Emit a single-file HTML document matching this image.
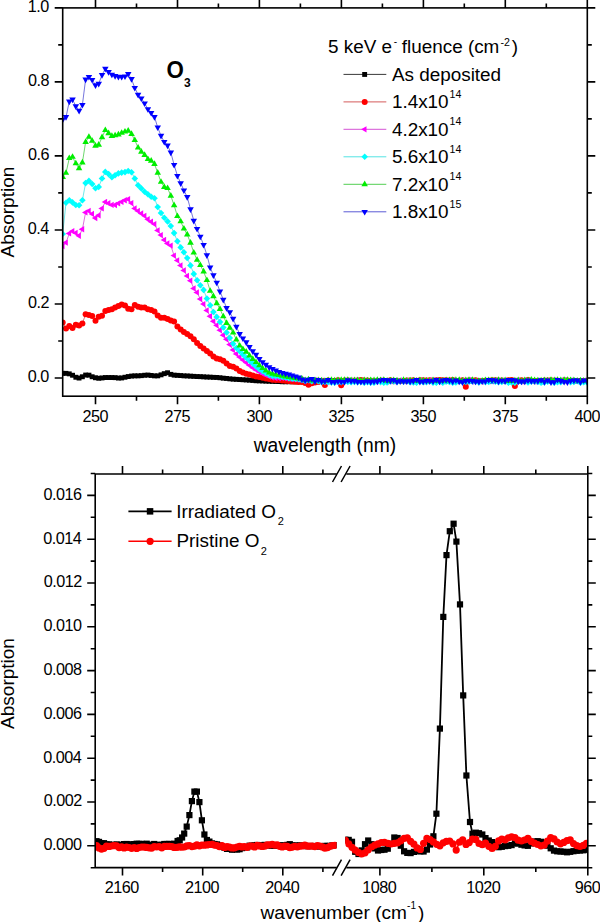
<!DOCTYPE html>
<html><head><meta charset="utf-8"><title>Absorption spectra</title>
<style>html,body{margin:0;padding:0;background:#fff;}body{width:600px;height:922px;position:relative;overflow:hidden;font-family:"Liberation Sans",sans-serif;}</style>
</head><body>
<svg width="600" height="922" viewBox="0 0 600 922" style="position:absolute;left:0;top:0">
<rect width="600" height="922" fill="#fff"/>
<defs><clipPath id="ct"><rect x="62.7" y="7.9" width="524.6" height="388.3"/></clipPath><clipPath id="cb"><rect x="95.2" y="474.0" width="241.5" height="393.6"/><rect x="345.3" y="474.0" width="242.5" height="393.6"/></clipPath></defs>
<g clip-path="url(#ct)">
<polyline points="62.7,373.3 66.0,373.3 69.3,373.8 72.5,375.3 75.8,377.3 79.1,378.0 82.4,376.8 85.6,375.0 88.9,375.1 92.2,376.7 95.5,377.8 98.7,378.3 102.0,377.9 105.3,377.5 108.6,377.5 111.9,377.5 115.1,377.7 118.4,378.1 121.7,378.0 125.0,377.2 128.2,376.5 131.5,376.1 134.8,375.8 138.1,375.8 141.3,375.7 144.6,375.3 147.9,375.1 151.2,375.5 154.5,375.8 157.7,375.8 161.0,374.9 164.3,373.6 167.6,372.7 170.8,374.4 174.1,375.1 177.4,375.4 180.7,375.6 183.9,375.8 187.2,376.0 190.5,376.2 193.8,376.3 197.1,376.5 200.3,376.7 203.6,376.9 206.9,377.0 210.2,377.2 213.4,377.3 216.7,377.5 220.0,377.8 223.3,378.1 226.6,378.5 229.8,378.8 233.1,379.1 236.4,379.4 239.7,379.6 242.9,379.8 246.2,379.9 249.5,380.2 252.8,380.5 256.0,380.7 259.3,380.9 262.6,381.0 265.9,381.1 269.2,381.2 272.4,381.4 275.7,381.5 279.0,381.6 282.3,381.7 285.5,381.7 288.8,381.7 292.1,381.7 295.4,381.7 298.6,381.7 301.9,381.5 305.2,381.2 308.5,381.7 311.8,380.9 315.0,381.3 318.3,381.0 321.6,380.6 324.9,381.0 328.1,380.4 331.4,380.9 334.7,380.5 338.0,380.5 341.2,380.9 344.5,381.4 347.8,380.5 351.1,380.7 354.4,381.2 357.6,381.5 360.9,381.1 364.2,380.9 367.5,381.6 370.7,380.5 374.0,381.4 377.3,380.7 380.6,380.6 383.8,380.5 387.1,380.8 390.4,381.4 393.7,380.6 397.0,381.1 400.2,381.2 403.5,380.8 406.8,381.1 410.1,380.5 413.3,380.5 416.6,380.6 419.9,381.2 423.2,380.9 426.4,380.8 429.7,381.1 433.0,380.9 436.3,380.8 439.6,381.4 442.8,381.2 446.1,380.7 449.4,381.1 452.7,381.0 455.9,381.5 459.2,381.3 462.5,380.7 465.8,381.6 469.0,380.5 472.3,380.9 475.6,381.3 478.9,380.6 482.2,381.0 485.4,380.4 488.7,381.2 492.0,381.3 495.3,381.1 498.5,381.5 501.8,380.8 505.1,381.2 508.4,381.1 511.6,381.1 514.9,380.9 518.2,381.4 521.5,381.5 524.8,381.0 528.0,381.2 531.3,380.5 534.6,381.2 537.9,381.2 541.1,381.6 544.4,381.4 547.7,380.7 551.0,380.9 554.2,381.2 557.5,380.4 560.8,381.0 564.1,380.6 567.4,380.5 570.6,380.5 573.9,381.3 577.2,380.6 580.5,380.7 583.7,380.9 587.0,381.4" fill="none" stroke="#222" stroke-width="0.75" />
<rect x="60.2" y="370.9" width="4.9" height="4.9" fill="#000"/>
<rect x="63.5" y="370.9" width="4.9" height="4.9" fill="#000"/>
<rect x="66.8" y="371.4" width="4.9" height="4.9" fill="#000"/>
<rect x="70.1" y="372.8" width="4.9" height="4.9" fill="#000"/>
<rect x="73.4" y="374.8" width="4.9" height="4.9" fill="#000"/>
<rect x="76.6" y="375.6" width="4.9" height="4.9" fill="#000"/>
<rect x="79.9" y="374.3" width="4.9" height="4.9" fill="#000"/>
<rect x="83.2" y="372.6" width="4.9" height="4.9" fill="#000"/>
<rect x="86.5" y="372.7" width="4.9" height="4.9" fill="#000"/>
<rect x="89.7" y="374.3" width="4.9" height="4.9" fill="#000"/>
<rect x="93.0" y="375.3" width="4.9" height="4.9" fill="#000"/>
<rect x="96.3" y="375.8" width="4.9" height="4.9" fill="#000"/>
<rect x="99.6" y="375.5" width="4.9" height="4.9" fill="#000"/>
<rect x="102.9" y="375.1" width="4.9" height="4.9" fill="#000"/>
<rect x="106.1" y="375.1" width="4.9" height="4.9" fill="#000"/>
<rect x="109.4" y="375.1" width="4.9" height="4.9" fill="#000"/>
<rect x="112.7" y="375.2" width="4.9" height="4.9" fill="#000"/>
<rect x="116.0" y="375.6" width="4.9" height="4.9" fill="#000"/>
<rect x="119.2" y="375.5" width="4.9" height="4.9" fill="#000"/>
<rect x="122.5" y="374.8" width="4.9" height="4.9" fill="#000"/>
<rect x="125.8" y="374.1" width="4.9" height="4.9" fill="#000"/>
<rect x="129.1" y="373.6" width="4.9" height="4.9" fill="#000"/>
<rect x="132.3" y="373.4" width="4.9" height="4.9" fill="#000"/>
<rect x="135.6" y="373.4" width="4.9" height="4.9" fill="#000"/>
<rect x="138.9" y="373.2" width="4.9" height="4.9" fill="#000"/>
<rect x="142.2" y="372.8" width="4.9" height="4.9" fill="#000"/>
<rect x="145.5" y="372.6" width="4.9" height="4.9" fill="#000"/>
<rect x="148.7" y="373.0" width="4.9" height="4.9" fill="#000"/>
<rect x="152.0" y="373.4" width="4.9" height="4.9" fill="#000"/>
<rect x="155.3" y="373.4" width="4.9" height="4.9" fill="#000"/>
<rect x="158.6" y="372.4" width="4.9" height="4.9" fill="#000"/>
<rect x="161.8" y="371.2" width="4.9" height="4.9" fill="#000"/>
<rect x="165.1" y="370.3" width="4.9" height="4.9" fill="#000"/>
<rect x="168.4" y="371.9" width="4.9" height="4.9" fill="#000"/>
<rect x="171.7" y="372.7" width="4.9" height="4.9" fill="#000"/>
<rect x="174.9" y="372.9" width="4.9" height="4.9" fill="#000"/>
<rect x="178.2" y="373.1" width="4.9" height="4.9" fill="#000"/>
<rect x="181.5" y="373.4" width="4.9" height="4.9" fill="#000"/>
<rect x="184.8" y="373.5" width="4.9" height="4.9" fill="#000"/>
<rect x="188.1" y="373.7" width="4.9" height="4.9" fill="#000"/>
<rect x="191.3" y="373.9" width="4.9" height="4.9" fill="#000"/>
<rect x="194.6" y="374.1" width="4.9" height="4.9" fill="#000"/>
<rect x="197.9" y="374.2" width="4.9" height="4.9" fill="#000"/>
<rect x="201.2" y="374.4" width="4.9" height="4.9" fill="#000"/>
<rect x="204.4" y="374.6" width="4.9" height="4.9" fill="#000"/>
<rect x="207.7" y="374.7" width="4.9" height="4.9" fill="#000"/>
<rect x="211.0" y="374.9" width="4.9" height="4.9" fill="#000"/>
<rect x="214.3" y="375.0" width="4.9" height="4.9" fill="#000"/>
<rect x="217.5" y="375.3" width="4.9" height="4.9" fill="#000"/>
<rect x="220.8" y="375.7" width="4.9" height="4.9" fill="#000"/>
<rect x="224.1" y="376.0" width="4.9" height="4.9" fill="#000"/>
<rect x="227.4" y="376.4" width="4.9" height="4.9" fill="#000"/>
<rect x="230.7" y="376.7" width="4.9" height="4.9" fill="#000"/>
<rect x="233.9" y="376.9" width="4.9" height="4.9" fill="#000"/>
<rect x="237.2" y="377.1" width="4.9" height="4.9" fill="#000"/>
<rect x="240.5" y="377.3" width="4.9" height="4.9" fill="#000"/>
<rect x="243.8" y="377.5" width="4.9" height="4.9" fill="#000"/>
<rect x="247.0" y="377.7" width="4.9" height="4.9" fill="#000"/>
<rect x="250.3" y="378.0" width="4.9" height="4.9" fill="#000"/>
<rect x="253.6" y="378.3" width="4.9" height="4.9" fill="#000"/>
<rect x="256.9" y="378.4" width="4.9" height="4.9" fill="#000"/>
<rect x="260.1" y="378.5" width="4.9" height="4.9" fill="#000"/>
<rect x="263.4" y="378.7" width="4.9" height="4.9" fill="#000"/>
<rect x="266.7" y="378.8" width="4.9" height="4.9" fill="#000"/>
<rect x="270.0" y="378.9" width="4.9" height="4.9" fill="#000"/>
<rect x="273.3" y="379.0" width="4.9" height="4.9" fill="#000"/>
<rect x="276.5" y="379.1" width="4.9" height="4.9" fill="#000"/>
<rect x="279.8" y="379.3" width="4.9" height="4.9" fill="#000"/>
<rect x="283.1" y="379.3" width="4.9" height="4.9" fill="#000"/>
<rect x="286.4" y="379.3" width="4.9" height="4.9" fill="#000"/>
<rect x="289.6" y="379.3" width="4.9" height="4.9" fill="#000"/>
<rect x="292.9" y="379.3" width="4.9" height="4.9" fill="#000"/>
<rect x="296.2" y="379.3" width="4.9" height="4.9" fill="#000"/>
<rect x="299.5" y="379.0" width="4.9" height="4.9" fill="#000"/>
<rect x="302.7" y="378.7" width="4.9" height="4.9" fill="#000"/>
<rect x="306.0" y="379.2" width="4.9" height="4.9" fill="#000"/>
<rect x="309.3" y="378.4" width="4.9" height="4.9" fill="#000"/>
<rect x="312.6" y="378.9" width="4.9" height="4.9" fill="#000"/>
<rect x="315.9" y="378.6" width="4.9" height="4.9" fill="#000"/>
<rect x="319.1" y="378.1" width="4.9" height="4.9" fill="#000"/>
<rect x="322.4" y="378.6" width="4.9" height="4.9" fill="#000"/>
<rect x="325.7" y="378.0" width="4.9" height="4.9" fill="#000"/>
<rect x="329.0" y="378.5" width="4.9" height="4.9" fill="#000"/>
<rect x="332.2" y="378.0" width="4.9" height="4.9" fill="#000"/>
<rect x="335.5" y="378.1" width="4.9" height="4.9" fill="#000"/>
<rect x="338.8" y="378.5" width="4.9" height="4.9" fill="#000"/>
<rect x="342.1" y="378.9" width="4.9" height="4.9" fill="#000"/>
<rect x="345.3" y="378.1" width="4.9" height="4.9" fill="#000"/>
<rect x="348.6" y="378.2" width="4.9" height="4.9" fill="#000"/>
<rect x="351.9" y="378.7" width="4.9" height="4.9" fill="#000"/>
<rect x="355.2" y="379.1" width="4.9" height="4.9" fill="#000"/>
<rect x="358.5" y="378.6" width="4.9" height="4.9" fill="#000"/>
<rect x="361.7" y="378.4" width="4.9" height="4.9" fill="#000"/>
<rect x="365.0" y="379.1" width="4.9" height="4.9" fill="#000"/>
<rect x="368.3" y="378.0" width="4.9" height="4.9" fill="#000"/>
<rect x="371.6" y="379.0" width="4.9" height="4.9" fill="#000"/>
<rect x="374.8" y="378.3" width="4.9" height="4.9" fill="#000"/>
<rect x="378.1" y="378.1" width="4.9" height="4.9" fill="#000"/>
<rect x="381.4" y="378.1" width="4.9" height="4.9" fill="#000"/>
<rect x="384.7" y="378.3" width="4.9" height="4.9" fill="#000"/>
<rect x="387.9" y="378.9" width="4.9" height="4.9" fill="#000"/>
<rect x="391.2" y="378.2" width="4.9" height="4.9" fill="#000"/>
<rect x="394.5" y="378.6" width="4.9" height="4.9" fill="#000"/>
<rect x="397.8" y="378.7" width="4.9" height="4.9" fill="#000"/>
<rect x="401.1" y="378.4" width="4.9" height="4.9" fill="#000"/>
<rect x="404.3" y="378.6" width="4.9" height="4.9" fill="#000"/>
<rect x="407.6" y="378.0" width="4.9" height="4.9" fill="#000"/>
<rect x="410.9" y="378.0" width="4.9" height="4.9" fill="#000"/>
<rect x="414.2" y="378.2" width="4.9" height="4.9" fill="#000"/>
<rect x="417.4" y="378.8" width="4.9" height="4.9" fill="#000"/>
<rect x="420.7" y="378.5" width="4.9" height="4.9" fill="#000"/>
<rect x="424.0" y="378.3" width="4.9" height="4.9" fill="#000"/>
<rect x="427.3" y="378.7" width="4.9" height="4.9" fill="#000"/>
<rect x="430.6" y="378.5" width="4.9" height="4.9" fill="#000"/>
<rect x="433.8" y="378.3" width="4.9" height="4.9" fill="#000"/>
<rect x="437.1" y="378.9" width="4.9" height="4.9" fill="#000"/>
<rect x="440.4" y="378.8" width="4.9" height="4.9" fill="#000"/>
<rect x="443.7" y="378.2" width="4.9" height="4.9" fill="#000"/>
<rect x="446.9" y="378.6" width="4.9" height="4.9" fill="#000"/>
<rect x="450.2" y="378.6" width="4.9" height="4.9" fill="#000"/>
<rect x="453.5" y="379.0" width="4.9" height="4.9" fill="#000"/>
<rect x="456.8" y="378.8" width="4.9" height="4.9" fill="#000"/>
<rect x="460.0" y="378.3" width="4.9" height="4.9" fill="#000"/>
<rect x="463.3" y="379.1" width="4.9" height="4.9" fill="#000"/>
<rect x="466.6" y="378.1" width="4.9" height="4.9" fill="#000"/>
<rect x="469.9" y="378.5" width="4.9" height="4.9" fill="#000"/>
<rect x="473.2" y="378.9" width="4.9" height="4.9" fill="#000"/>
<rect x="476.4" y="378.1" width="4.9" height="4.9" fill="#000"/>
<rect x="479.7" y="378.5" width="4.9" height="4.9" fill="#000"/>
<rect x="483.0" y="378.0" width="4.9" height="4.9" fill="#000"/>
<rect x="486.3" y="378.8" width="4.9" height="4.9" fill="#000"/>
<rect x="489.5" y="378.9" width="4.9" height="4.9" fill="#000"/>
<rect x="492.8" y="378.6" width="4.9" height="4.9" fill="#000"/>
<rect x="496.1" y="379.0" width="4.9" height="4.9" fill="#000"/>
<rect x="499.4" y="378.3" width="4.9" height="4.9" fill="#000"/>
<rect x="502.6" y="378.8" width="4.9" height="4.9" fill="#000"/>
<rect x="505.9" y="378.7" width="4.9" height="4.9" fill="#000"/>
<rect x="509.2" y="378.6" width="4.9" height="4.9" fill="#000"/>
<rect x="512.5" y="378.5" width="4.9" height="4.9" fill="#000"/>
<rect x="515.8" y="379.0" width="4.9" height="4.9" fill="#000"/>
<rect x="519.0" y="379.1" width="4.9" height="4.9" fill="#000"/>
<rect x="522.3" y="378.5" width="4.9" height="4.9" fill="#000"/>
<rect x="525.6" y="378.7" width="4.9" height="4.9" fill="#000"/>
<rect x="528.9" y="378.0" width="4.9" height="4.9" fill="#000"/>
<rect x="532.1" y="378.8" width="4.9" height="4.9" fill="#000"/>
<rect x="535.4" y="378.7" width="4.9" height="4.9" fill="#000"/>
<rect x="538.7" y="379.1" width="4.9" height="4.9" fill="#000"/>
<rect x="542.0" y="378.9" width="4.9" height="4.9" fill="#000"/>
<rect x="545.2" y="378.3" width="4.9" height="4.9" fill="#000"/>
<rect x="548.5" y="378.4" width="4.9" height="4.9" fill="#000"/>
<rect x="551.8" y="378.8" width="4.9" height="4.9" fill="#000"/>
<rect x="555.1" y="378.0" width="4.9" height="4.9" fill="#000"/>
<rect x="558.4" y="378.5" width="4.9" height="4.9" fill="#000"/>
<rect x="561.6" y="378.2" width="4.9" height="4.9" fill="#000"/>
<rect x="564.9" y="378.1" width="4.9" height="4.9" fill="#000"/>
<rect x="568.2" y="378.0" width="4.9" height="4.9" fill="#000"/>
<rect x="571.5" y="378.9" width="4.9" height="4.9" fill="#000"/>
<rect x="574.7" y="378.1" width="4.9" height="4.9" fill="#000"/>
<rect x="578.0" y="378.2" width="4.9" height="4.9" fill="#000"/>
<rect x="581.3" y="378.4" width="4.9" height="4.9" fill="#000"/>
<rect x="584.6" y="379.0" width="4.9" height="4.9" fill="#000"/>
<polyline points="62.7,322.5 66.0,328.6 69.3,326.1 72.5,328.0 75.8,324.7 79.1,325.6 82.4,323.4 85.6,314.3 88.9,315.1 92.2,315.9 95.5,320.7 98.7,316.7 102.0,315.8 105.3,311.0 108.6,310.0 111.9,309.3 115.1,307.6 118.4,305.9 121.7,304.4 125.0,305.6 128.2,308.7 131.5,309.2 134.8,305.1 138.1,306.7 141.3,307.5 144.6,307.5 147.9,309.2 151.2,310.0 154.5,311.6 157.7,315.6 161.0,317.7 164.3,317.8 167.6,319.1 170.8,320.5 174.1,321.4 177.4,326.5 180.7,329.6 183.9,332.0 187.2,333.9 190.5,336.2 193.8,339.2 197.1,343.1 200.3,346.0 203.6,348.5 206.9,350.9 210.2,353.4 213.4,356.4 216.7,358.6 220.0,359.2 223.3,360.7 226.6,363.6 229.8,366.0 233.1,366.7 236.4,368.5 239.7,370.9 242.9,372.5 246.2,373.7 249.5,374.6 252.8,375.5 256.0,376.4 259.3,377.1 262.6,377.8 265.9,378.4 269.2,379.1 272.4,379.7 275.7,379.9 279.0,380.0 282.3,380.5 285.5,380.8 288.8,381.1 292.1,381.5 295.4,381.8 298.6,382.1 301.9,382.1 305.2,382.9 308.5,384.8 311.8,383.2 315.0,382.4 318.3,382.0 321.6,380.9 324.9,385.0 328.1,380.5 331.4,381.2 334.7,381.2 338.0,380.3 341.2,385.2 344.5,380.4 347.8,380.4 351.1,380.7 354.4,380.8 357.6,380.4 360.9,380.1 364.2,380.6 367.5,380.5 370.7,380.8 374.0,381.2 377.3,380.9 380.6,380.7 383.8,380.8 387.1,380.9 390.4,380.2 393.7,381.2 397.0,381.0 400.2,381.1 403.5,381.1 406.8,380.6 410.1,380.6 413.3,380.2 416.6,380.9 419.9,380.2 423.2,380.2 426.4,380.4 429.7,380.3 433.0,380.5 436.3,380.2 439.6,380.1 442.8,380.3 446.1,380.2 449.4,380.5 452.7,380.1 455.9,381.1 459.2,380.8 462.5,380.3 465.8,386.8 469.0,380.5 472.3,380.5 475.6,380.2 478.9,381.1 482.2,381.3 485.4,380.7 488.7,380.7 492.0,380.2 495.3,380.2 498.5,380.5 501.8,380.4 505.1,381.1 508.4,380.3 511.6,380.1 514.9,386.0 518.2,380.7 521.5,380.3 524.8,380.8 528.0,380.1 531.3,380.7 534.6,381.3 537.9,381.1 541.1,380.9 544.4,380.4 547.7,380.5 551.0,380.3 554.2,381.0 557.5,380.7 560.8,381.0 564.1,380.5 567.4,380.4 570.6,381.1 573.9,381.3 577.2,381.1 580.5,381.1 583.7,381.1 587.0,381.0" fill="none" stroke="#d04848" stroke-width="0.75" />
<circle cx="62.7" cy="322.5" r="3.0" fill="#f00"/>
<circle cx="66.0" cy="328.6" r="3.0" fill="#f00"/>
<circle cx="69.3" cy="326.1" r="3.0" fill="#f00"/>
<circle cx="72.5" cy="328.0" r="3.0" fill="#f00"/>
<circle cx="75.8" cy="324.7" r="3.0" fill="#f00"/>
<circle cx="79.1" cy="325.6" r="3.0" fill="#f00"/>
<circle cx="82.4" cy="323.4" r="3.0" fill="#f00"/>
<circle cx="85.6" cy="314.3" r="3.0" fill="#f00"/>
<circle cx="88.9" cy="315.1" r="3.0" fill="#f00"/>
<circle cx="92.2" cy="315.9" r="3.0" fill="#f00"/>
<circle cx="95.5" cy="320.7" r="3.0" fill="#f00"/>
<circle cx="98.7" cy="316.7" r="3.0" fill="#f00"/>
<circle cx="102.0" cy="315.8" r="3.0" fill="#f00"/>
<circle cx="105.3" cy="311.0" r="3.0" fill="#f00"/>
<circle cx="108.6" cy="310.0" r="3.0" fill="#f00"/>
<circle cx="111.9" cy="309.3" r="3.0" fill="#f00"/>
<circle cx="115.1" cy="307.6" r="3.0" fill="#f00"/>
<circle cx="118.4" cy="305.9" r="3.0" fill="#f00"/>
<circle cx="121.7" cy="304.4" r="3.0" fill="#f00"/>
<circle cx="125.0" cy="305.6" r="3.0" fill="#f00"/>
<circle cx="128.2" cy="308.7" r="3.0" fill="#f00"/>
<circle cx="131.5" cy="309.2" r="3.0" fill="#f00"/>
<circle cx="134.8" cy="305.1" r="3.0" fill="#f00"/>
<circle cx="138.1" cy="306.7" r="3.0" fill="#f00"/>
<circle cx="141.3" cy="307.5" r="3.0" fill="#f00"/>
<circle cx="144.6" cy="307.5" r="3.0" fill="#f00"/>
<circle cx="147.9" cy="309.2" r="3.0" fill="#f00"/>
<circle cx="151.2" cy="310.0" r="3.0" fill="#f00"/>
<circle cx="154.5" cy="311.6" r="3.0" fill="#f00"/>
<circle cx="157.7" cy="315.6" r="3.0" fill="#f00"/>
<circle cx="161.0" cy="317.7" r="3.0" fill="#f00"/>
<circle cx="164.3" cy="317.8" r="3.0" fill="#f00"/>
<circle cx="167.6" cy="319.1" r="3.0" fill="#f00"/>
<circle cx="170.8" cy="320.5" r="3.0" fill="#f00"/>
<circle cx="174.1" cy="321.4" r="3.0" fill="#f00"/>
<circle cx="177.4" cy="326.5" r="3.0" fill="#f00"/>
<circle cx="180.7" cy="329.6" r="3.0" fill="#f00"/>
<circle cx="183.9" cy="332.0" r="3.0" fill="#f00"/>
<circle cx="187.2" cy="333.9" r="3.0" fill="#f00"/>
<circle cx="190.5" cy="336.2" r="3.0" fill="#f00"/>
<circle cx="193.8" cy="339.2" r="3.0" fill="#f00"/>
<circle cx="197.1" cy="343.1" r="3.0" fill="#f00"/>
<circle cx="200.3" cy="346.0" r="3.0" fill="#f00"/>
<circle cx="203.6" cy="348.5" r="3.0" fill="#f00"/>
<circle cx="206.9" cy="350.9" r="3.0" fill="#f00"/>
<circle cx="210.2" cy="353.4" r="3.0" fill="#f00"/>
<circle cx="213.4" cy="356.4" r="3.0" fill="#f00"/>
<circle cx="216.7" cy="358.6" r="3.0" fill="#f00"/>
<circle cx="220.0" cy="359.2" r="3.0" fill="#f00"/>
<circle cx="223.3" cy="360.7" r="3.0" fill="#f00"/>
<circle cx="226.6" cy="363.6" r="3.0" fill="#f00"/>
<circle cx="229.8" cy="366.0" r="3.0" fill="#f00"/>
<circle cx="233.1" cy="366.7" r="3.0" fill="#f00"/>
<circle cx="236.4" cy="368.5" r="3.0" fill="#f00"/>
<circle cx="239.7" cy="370.9" r="3.0" fill="#f00"/>
<circle cx="242.9" cy="372.5" r="3.0" fill="#f00"/>
<circle cx="246.2" cy="373.7" r="3.0" fill="#f00"/>
<circle cx="249.5" cy="374.6" r="3.0" fill="#f00"/>
<circle cx="252.8" cy="375.5" r="3.0" fill="#f00"/>
<circle cx="256.0" cy="376.4" r="3.0" fill="#f00"/>
<circle cx="259.3" cy="377.1" r="3.0" fill="#f00"/>
<circle cx="262.6" cy="377.8" r="3.0" fill="#f00"/>
<circle cx="265.9" cy="378.4" r="3.0" fill="#f00"/>
<circle cx="269.2" cy="379.1" r="3.0" fill="#f00"/>
<circle cx="272.4" cy="379.7" r="3.0" fill="#f00"/>
<circle cx="275.7" cy="379.9" r="3.0" fill="#f00"/>
<circle cx="279.0" cy="380.0" r="3.0" fill="#f00"/>
<circle cx="282.3" cy="380.5" r="3.0" fill="#f00"/>
<circle cx="285.5" cy="380.8" r="3.0" fill="#f00"/>
<circle cx="288.8" cy="381.1" r="3.0" fill="#f00"/>
<circle cx="292.1" cy="381.5" r="3.0" fill="#f00"/>
<circle cx="295.4" cy="381.8" r="3.0" fill="#f00"/>
<circle cx="298.6" cy="382.1" r="3.0" fill="#f00"/>
<circle cx="301.9" cy="382.1" r="3.0" fill="#f00"/>
<circle cx="305.2" cy="382.9" r="3.0" fill="#f00"/>
<circle cx="308.5" cy="384.8" r="3.0" fill="#f00"/>
<circle cx="311.8" cy="383.2" r="3.0" fill="#f00"/>
<circle cx="315.0" cy="382.4" r="3.0" fill="#f00"/>
<circle cx="318.3" cy="382.0" r="3.0" fill="#f00"/>
<circle cx="321.6" cy="380.9" r="3.0" fill="#f00"/>
<circle cx="324.9" cy="385.0" r="3.0" fill="#f00"/>
<circle cx="328.1" cy="380.5" r="3.0" fill="#f00"/>
<circle cx="331.4" cy="381.2" r="3.0" fill="#f00"/>
<circle cx="334.7" cy="381.2" r="3.0" fill="#f00"/>
<circle cx="338.0" cy="380.3" r="3.0" fill="#f00"/>
<circle cx="341.2" cy="385.2" r="3.0" fill="#f00"/>
<circle cx="344.5" cy="380.4" r="3.0" fill="#f00"/>
<circle cx="347.8" cy="380.4" r="3.0" fill="#f00"/>
<circle cx="351.1" cy="380.7" r="3.0" fill="#f00"/>
<circle cx="354.4" cy="380.8" r="3.0" fill="#f00"/>
<circle cx="357.6" cy="380.4" r="3.0" fill="#f00"/>
<circle cx="360.9" cy="380.1" r="3.0" fill="#f00"/>
<circle cx="364.2" cy="380.6" r="3.0" fill="#f00"/>
<circle cx="367.5" cy="380.5" r="3.0" fill="#f00"/>
<circle cx="370.7" cy="380.8" r="3.0" fill="#f00"/>
<circle cx="374.0" cy="381.2" r="3.0" fill="#f00"/>
<circle cx="377.3" cy="380.9" r="3.0" fill="#f00"/>
<circle cx="380.6" cy="380.7" r="3.0" fill="#f00"/>
<circle cx="383.8" cy="380.8" r="3.0" fill="#f00"/>
<circle cx="387.1" cy="380.9" r="3.0" fill="#f00"/>
<circle cx="390.4" cy="380.2" r="3.0" fill="#f00"/>
<circle cx="393.7" cy="381.2" r="3.0" fill="#f00"/>
<circle cx="397.0" cy="381.0" r="3.0" fill="#f00"/>
<circle cx="400.2" cy="381.1" r="3.0" fill="#f00"/>
<circle cx="403.5" cy="381.1" r="3.0" fill="#f00"/>
<circle cx="406.8" cy="380.6" r="3.0" fill="#f00"/>
<circle cx="410.1" cy="380.6" r="3.0" fill="#f00"/>
<circle cx="413.3" cy="380.2" r="3.0" fill="#f00"/>
<circle cx="416.6" cy="380.9" r="3.0" fill="#f00"/>
<circle cx="419.9" cy="380.2" r="3.0" fill="#f00"/>
<circle cx="423.2" cy="380.2" r="3.0" fill="#f00"/>
<circle cx="426.4" cy="380.4" r="3.0" fill="#f00"/>
<circle cx="429.7" cy="380.3" r="3.0" fill="#f00"/>
<circle cx="433.0" cy="380.5" r="3.0" fill="#f00"/>
<circle cx="436.3" cy="380.2" r="3.0" fill="#f00"/>
<circle cx="439.6" cy="380.1" r="3.0" fill="#f00"/>
<circle cx="442.8" cy="380.3" r="3.0" fill="#f00"/>
<circle cx="446.1" cy="380.2" r="3.0" fill="#f00"/>
<circle cx="449.4" cy="380.5" r="3.0" fill="#f00"/>
<circle cx="452.7" cy="380.1" r="3.0" fill="#f00"/>
<circle cx="455.9" cy="381.1" r="3.0" fill="#f00"/>
<circle cx="459.2" cy="380.8" r="3.0" fill="#f00"/>
<circle cx="462.5" cy="380.3" r="3.0" fill="#f00"/>
<circle cx="465.8" cy="386.8" r="3.0" fill="#f00"/>
<circle cx="469.0" cy="380.5" r="3.0" fill="#f00"/>
<circle cx="472.3" cy="380.5" r="3.0" fill="#f00"/>
<circle cx="475.6" cy="380.2" r="3.0" fill="#f00"/>
<circle cx="478.9" cy="381.1" r="3.0" fill="#f00"/>
<circle cx="482.2" cy="381.3" r="3.0" fill="#f00"/>
<circle cx="485.4" cy="380.7" r="3.0" fill="#f00"/>
<circle cx="488.7" cy="380.7" r="3.0" fill="#f00"/>
<circle cx="492.0" cy="380.2" r="3.0" fill="#f00"/>
<circle cx="495.3" cy="380.2" r="3.0" fill="#f00"/>
<circle cx="498.5" cy="380.5" r="3.0" fill="#f00"/>
<circle cx="501.8" cy="380.4" r="3.0" fill="#f00"/>
<circle cx="505.1" cy="381.1" r="3.0" fill="#f00"/>
<circle cx="508.4" cy="380.3" r="3.0" fill="#f00"/>
<circle cx="511.6" cy="380.1" r="3.0" fill="#f00"/>
<circle cx="514.9" cy="386.0" r="3.0" fill="#f00"/>
<circle cx="518.2" cy="380.7" r="3.0" fill="#f00"/>
<circle cx="521.5" cy="380.3" r="3.0" fill="#f00"/>
<circle cx="524.8" cy="380.8" r="3.0" fill="#f00"/>
<circle cx="528.0" cy="380.1" r="3.0" fill="#f00"/>
<circle cx="531.3" cy="380.7" r="3.0" fill="#f00"/>
<circle cx="534.6" cy="381.3" r="3.0" fill="#f00"/>
<circle cx="537.9" cy="381.1" r="3.0" fill="#f00"/>
<circle cx="541.1" cy="380.9" r="3.0" fill="#f00"/>
<circle cx="544.4" cy="380.4" r="3.0" fill="#f00"/>
<circle cx="547.7" cy="380.5" r="3.0" fill="#f00"/>
<circle cx="551.0" cy="380.3" r="3.0" fill="#f00"/>
<circle cx="554.2" cy="381.0" r="3.0" fill="#f00"/>
<circle cx="557.5" cy="380.7" r="3.0" fill="#f00"/>
<circle cx="560.8" cy="381.0" r="3.0" fill="#f00"/>
<circle cx="564.1" cy="380.5" r="3.0" fill="#f00"/>
<circle cx="567.4" cy="380.4" r="3.0" fill="#f00"/>
<circle cx="570.6" cy="381.1" r="3.0" fill="#f00"/>
<circle cx="573.9" cy="381.3" r="3.0" fill="#f00"/>
<circle cx="577.2" cy="381.1" r="3.0" fill="#f00"/>
<circle cx="580.5" cy="381.1" r="3.0" fill="#f00"/>
<circle cx="583.7" cy="381.1" r="3.0" fill="#f00"/>
<circle cx="587.0" cy="381.0" r="3.0" fill="#f00"/>
<polyline points="62.7,246.0 66.0,242.6 69.3,233.5 72.5,231.2 75.8,233.0 79.1,235.8 82.4,229.3 85.6,212.4 88.9,210.9 92.2,214.0 95.5,218.0 98.7,215.3 102.0,208.4 105.3,201.9 108.6,203.2 111.9,204.9 115.1,205.0 118.4,203.4 121.7,201.9 125.0,200.2 128.2,199.2 131.5,203.1 134.8,208.4 138.1,210.9 141.3,213.4 144.6,215.8 147.9,219.2 151.2,221.7 154.5,224.1 157.7,230.5 161.0,235.1 164.3,239.9 167.6,243.4 170.8,245.6 174.1,255.6 177.4,260.4 180.7,265.4 183.9,270.4 187.2,276.0 190.5,280.7 193.8,288.4 197.1,292.4 200.3,299.1 203.6,304.1 206.9,310.4 210.2,316.3 213.4,321.3 216.7,325.3 220.0,330.2 223.3,335.2 226.6,339.3 229.8,344.5 233.1,349.9 236.4,353.9 239.7,357.1 242.9,359.9 246.2,362.6 249.5,365.3 252.8,367.7 256.0,369.9 259.3,371.9 262.6,373.6 265.9,375.2 269.2,376.5 272.4,377.5 275.7,378.2 279.0,378.2 282.3,378.0 285.5,378.3 288.8,378.8 292.1,379.2 295.4,379.5 298.6,379.8 301.9,379.8 305.2,380.6 308.5,380.6 311.8,380.2 315.0,380.2 318.3,380.6 321.6,380.5 324.9,381.2 328.1,381.6 331.4,380.8 334.7,381.6 338.0,381.7 341.2,381.6 344.5,380.7 347.8,380.5 351.1,380.5 354.4,380.4 357.6,380.4 360.9,381.1 364.2,381.5 367.5,381.4 370.7,380.9 374.0,381.1 377.3,381.4 380.6,380.2 383.8,381.2 387.1,381.6 390.4,381.4 393.7,381.3 397.0,380.9 400.2,380.4 403.5,381.4 406.8,380.6 410.1,381.4 413.3,381.7 416.6,380.7 419.9,380.7 423.2,381.6 426.4,381.3 429.7,380.4 433.0,380.3 436.3,380.3 439.6,381.5 442.8,381.4 446.1,380.3 449.4,381.4 452.7,381.7 455.9,381.2 459.2,380.7 462.5,381.0 465.8,380.3 469.0,380.1 472.3,381.7 475.6,381.1 478.9,380.9 482.2,381.6 485.4,380.8 488.7,381.5 492.0,381.4 495.3,380.4 498.5,380.5 501.8,380.6 505.1,380.5 508.4,381.0 511.6,380.5 514.9,380.8 518.2,380.3 521.5,381.6 524.8,380.7 528.0,380.8 531.3,381.0 534.6,381.5 537.9,380.8 541.1,381.6 544.4,380.9 547.7,381.0 551.0,380.9 554.2,380.1 557.5,380.8 560.8,380.4 564.1,380.1 567.4,381.4 570.6,380.4 573.9,380.9 577.2,381.3 580.5,381.0 583.7,380.6 587.0,380.9" fill="none" stroke="#d040d0" stroke-width="0.75" />
<path d="M64.5 242.8L64.5 249.2L59.1 246.0Z" fill="#f0f"/>
<path d="M67.8 239.4L67.8 245.7L62.3 242.6Z" fill="#f0f"/>
<path d="M71.1 230.3L71.1 236.6L65.6 233.5Z" fill="#f0f"/>
<path d="M74.3 228.0L74.3 234.3L68.9 231.2Z" fill="#f0f"/>
<path d="M77.6 229.8L77.6 236.1L72.2 233.0Z" fill="#f0f"/>
<path d="M80.9 232.6L80.9 238.9L75.4 235.8Z" fill="#f0f"/>
<path d="M84.2 226.1L84.2 232.4L78.7 229.3Z" fill="#f0f"/>
<path d="M87.5 209.2L87.5 215.5L82.0 212.4Z" fill="#f0f"/>
<path d="M90.7 207.7L90.7 214.0L85.3 210.9Z" fill="#f0f"/>
<path d="M94.0 210.8L94.0 217.1L88.6 214.0Z" fill="#f0f"/>
<path d="M97.3 214.9L97.3 221.2L91.8 218.0Z" fill="#f0f"/>
<path d="M100.6 212.2L100.6 218.5L95.1 215.3Z" fill="#f0f"/>
<path d="M103.8 205.2L103.8 211.5L98.4 208.4Z" fill="#f0f"/>
<path d="M107.1 198.7L107.1 205.0L101.7 201.9Z" fill="#f0f"/>
<path d="M110.4 200.1L110.4 206.4L104.9 203.2Z" fill="#f0f"/>
<path d="M113.7 201.7L113.7 208.0L108.2 204.9Z" fill="#f0f"/>
<path d="M117.0 201.8L117.0 208.2L111.5 205.0Z" fill="#f0f"/>
<path d="M120.2 200.3L120.2 206.6L114.8 203.4Z" fill="#f0f"/>
<path d="M123.5 198.7L123.5 205.0L118.0 201.9Z" fill="#f0f"/>
<path d="M126.8 197.1L126.8 203.4L121.3 200.2Z" fill="#f0f"/>
<path d="M130.1 196.1L130.1 202.4L124.6 199.2Z" fill="#f0f"/>
<path d="M133.3 199.9L133.3 206.2L127.9 203.1Z" fill="#f0f"/>
<path d="M136.6 205.3L136.6 211.6L131.2 208.4Z" fill="#f0f"/>
<path d="M139.9 207.8L139.9 214.1L134.4 210.9Z" fill="#f0f"/>
<path d="M143.2 210.3L143.2 216.6L137.7 213.4Z" fill="#f0f"/>
<path d="M146.4 212.7L146.4 219.0L141.0 215.8Z" fill="#f0f"/>
<path d="M149.7 216.1L149.7 222.4L144.3 219.2Z" fill="#f0f"/>
<path d="M153.0 218.5L153.0 224.8L147.5 221.7Z" fill="#f0f"/>
<path d="M156.3 220.9L156.3 227.2L150.8 224.1Z" fill="#f0f"/>
<path d="M159.6 227.3L159.6 233.6L154.1 230.5Z" fill="#f0f"/>
<path d="M162.8 232.0L162.8 238.3L157.4 235.1Z" fill="#f0f"/>
<path d="M166.1 236.8L166.1 243.1L160.6 239.9Z" fill="#f0f"/>
<path d="M169.4 240.3L169.4 246.6L163.9 243.4Z" fill="#f0f"/>
<path d="M172.7 242.5L172.7 248.8L167.2 245.6Z" fill="#f0f"/>
<path d="M175.9 252.5L175.9 258.8L170.5 255.6Z" fill="#f0f"/>
<path d="M179.2 257.3L179.2 263.6L173.8 260.4Z" fill="#f0f"/>
<path d="M182.5 262.3L182.5 268.6L177.0 265.4Z" fill="#f0f"/>
<path d="M185.8 267.3L185.8 273.6L180.3 270.4Z" fill="#f0f"/>
<path d="M189.0 272.8L189.0 279.1L183.6 276.0Z" fill="#f0f"/>
<path d="M192.3 277.5L192.3 283.8L186.9 280.7Z" fill="#f0f"/>
<path d="M195.6 285.2L195.6 291.5L190.1 288.4Z" fill="#f0f"/>
<path d="M198.9 289.3L198.9 295.6L193.4 292.4Z" fill="#f0f"/>
<path d="M202.2 295.9L202.2 302.2L196.7 299.1Z" fill="#f0f"/>
<path d="M205.4 300.9L205.4 307.2L200.0 304.1Z" fill="#f0f"/>
<path d="M208.7 307.2L208.7 313.5L203.3 310.4Z" fill="#f0f"/>
<path d="M212.0 313.1L212.0 319.4L206.5 316.3Z" fill="#f0f"/>
<path d="M215.3 318.2L215.3 324.5L209.8 321.3Z" fill="#f0f"/>
<path d="M218.5 322.2L218.5 328.5L213.1 325.3Z" fill="#f0f"/>
<path d="M221.8 327.0L221.8 333.3L216.4 330.2Z" fill="#f0f"/>
<path d="M225.1 332.0L225.1 338.3L219.6 335.2Z" fill="#f0f"/>
<path d="M228.4 336.1L228.4 342.4L222.9 339.3Z" fill="#f0f"/>
<path d="M231.6 341.4L231.6 347.7L226.2 344.5Z" fill="#f0f"/>
<path d="M234.9 346.8L234.9 353.1L229.5 349.9Z" fill="#f0f"/>
<path d="M238.2 350.7L238.2 357.0L232.7 353.9Z" fill="#f0f"/>
<path d="M241.5 353.9L241.5 360.2L236.0 357.1Z" fill="#f0f"/>
<path d="M244.8 356.8L244.8 363.1L239.3 359.9Z" fill="#f0f"/>
<path d="M248.0 359.5L248.0 365.8L242.6 362.6Z" fill="#f0f"/>
<path d="M251.3 362.1L251.3 368.4L245.9 365.3Z" fill="#f0f"/>
<path d="M254.6 364.5L254.6 370.8L249.1 367.7Z" fill="#f0f"/>
<path d="M257.9 366.7L257.9 373.0L252.4 369.9Z" fill="#f0f"/>
<path d="M261.1 368.7L261.1 375.0L255.7 371.9Z" fill="#f0f"/>
<path d="M264.4 370.4L264.4 376.7L259.0 373.6Z" fill="#f0f"/>
<path d="M267.7 372.0L267.7 378.3L262.2 375.2Z" fill="#f0f"/>
<path d="M271.0 373.4L271.0 379.7L265.5 376.5Z" fill="#f0f"/>
<path d="M274.2 374.4L274.2 380.7L268.8 377.5Z" fill="#f0f"/>
<path d="M277.5 375.0L277.5 381.3L272.1 378.2Z" fill="#f0f"/>
<path d="M280.8 375.0L280.8 381.3L275.3 378.2Z" fill="#f0f"/>
<path d="M284.1 374.8L284.1 381.1L278.6 378.0Z" fill="#f0f"/>
<path d="M287.4 375.1L287.4 381.4L281.9 378.3Z" fill="#f0f"/>
<path d="M290.6 375.6L290.6 381.9L285.2 378.8Z" fill="#f0f"/>
<path d="M293.9 376.0L293.9 382.3L288.5 379.2Z" fill="#f0f"/>
<path d="M297.2 376.3L297.2 382.6L291.7 379.5Z" fill="#f0f"/>
<path d="M300.5 376.7L300.5 383.0L295.0 379.8Z" fill="#f0f"/>
<path d="M303.7 376.6L303.7 382.9L298.3 379.8Z" fill="#f0f"/>
<path d="M307.0 377.4L307.0 383.7L301.6 380.6Z" fill="#f0f"/>
<path d="M310.3 377.5L310.3 383.8L304.8 380.6Z" fill="#f0f"/>
<path d="M313.6 377.0L313.6 383.3L308.1 380.2Z" fill="#f0f"/>
<path d="M316.8 377.0L316.8 383.3L311.4 380.2Z" fill="#f0f"/>
<path d="M320.1 377.4L320.1 383.7L314.7 380.6Z" fill="#f0f"/>
<path d="M323.4 377.4L323.4 383.7L317.9 380.5Z" fill="#f0f"/>
<path d="M326.7 378.1L326.7 384.4L321.2 381.2Z" fill="#f0f"/>
<path d="M330.0 378.5L330.0 384.8L324.5 381.6Z" fill="#f0f"/>
<path d="M333.2 377.7L333.2 384.0L327.8 380.8Z" fill="#f0f"/>
<path d="M336.5 378.4L336.5 384.7L331.1 381.6Z" fill="#f0f"/>
<path d="M339.8 378.5L339.8 384.8L334.3 381.7Z" fill="#f0f"/>
<path d="M343.1 378.5L343.1 384.8L337.6 381.6Z" fill="#f0f"/>
<path d="M346.3 377.5L346.3 383.8L340.9 380.7Z" fill="#f0f"/>
<path d="M349.6 377.3L349.6 383.6L344.2 380.5Z" fill="#f0f"/>
<path d="M352.9 377.3L352.9 383.6L347.4 380.5Z" fill="#f0f"/>
<path d="M356.2 377.3L356.2 383.6L350.7 380.4Z" fill="#f0f"/>
<path d="M359.4 377.3L359.4 383.6L354.0 380.4Z" fill="#f0f"/>
<path d="M362.7 377.9L362.7 384.2L357.3 381.1Z" fill="#f0f"/>
<path d="M366.0 378.4L366.0 384.7L360.5 381.5Z" fill="#f0f"/>
<path d="M369.3 378.3L369.3 384.6L363.8 381.4Z" fill="#f0f"/>
<path d="M372.6 377.7L372.6 384.0L367.1 380.9Z" fill="#f0f"/>
<path d="M375.8 378.0L375.8 384.3L370.4 381.1Z" fill="#f0f"/>
<path d="M379.1 378.2L379.1 384.5L373.7 381.4Z" fill="#f0f"/>
<path d="M382.4 377.1L382.4 383.4L376.9 380.2Z" fill="#f0f"/>
<path d="M385.7 378.0L385.7 384.3L380.2 381.2Z" fill="#f0f"/>
<path d="M388.9 378.4L388.9 384.7L383.5 381.6Z" fill="#f0f"/>
<path d="M392.2 378.2L392.2 384.5L386.8 381.4Z" fill="#f0f"/>
<path d="M395.5 378.2L395.5 384.5L390.0 381.3Z" fill="#f0f"/>
<path d="M398.8 377.7L398.8 384.0L393.3 380.9Z" fill="#f0f"/>
<path d="M402.0 377.2L402.0 383.5L396.6 380.4Z" fill="#f0f"/>
<path d="M405.3 378.2L405.3 384.5L399.9 381.4Z" fill="#f0f"/>
<path d="M408.6 377.5L408.6 383.8L403.1 380.6Z" fill="#f0f"/>
<path d="M411.9 378.2L411.9 384.5L406.4 381.4Z" fill="#f0f"/>
<path d="M415.2 378.5L415.2 384.8L409.7 381.7Z" fill="#f0f"/>
<path d="M418.4 377.6L418.4 383.9L413.0 380.7Z" fill="#f0f"/>
<path d="M421.7 377.6L421.7 383.9L416.3 380.7Z" fill="#f0f"/>
<path d="M425.0 378.5L425.0 384.8L419.5 381.6Z" fill="#f0f"/>
<path d="M428.3 378.1L428.3 384.4L422.8 381.3Z" fill="#f0f"/>
<path d="M431.5 377.2L431.5 383.5L426.1 380.4Z" fill="#f0f"/>
<path d="M434.8 377.2L434.8 383.5L429.4 380.3Z" fill="#f0f"/>
<path d="M438.1 377.2L438.1 383.5L432.6 380.3Z" fill="#f0f"/>
<path d="M441.4 378.4L441.4 384.7L435.9 381.5Z" fill="#f0f"/>
<path d="M444.7 378.2L444.7 384.5L439.2 381.4Z" fill="#f0f"/>
<path d="M447.9 377.2L447.9 383.5L442.5 380.3Z" fill="#f0f"/>
<path d="M451.2 378.3L451.2 384.6L445.7 381.4Z" fill="#f0f"/>
<path d="M454.5 378.5L454.5 384.8L449.0 381.7Z" fill="#f0f"/>
<path d="M457.8 378.0L457.8 384.3L452.3 381.2Z" fill="#f0f"/>
<path d="M461.0 377.5L461.0 383.8L455.6 380.7Z" fill="#f0f"/>
<path d="M464.3 377.8L464.3 384.1L458.9 381.0Z" fill="#f0f"/>
<path d="M467.6 377.2L467.6 383.5L462.1 380.3Z" fill="#f0f"/>
<path d="M470.9 377.0L470.9 383.3L465.4 380.1Z" fill="#f0f"/>
<path d="M474.1 378.5L474.1 384.8L468.7 381.7Z" fill="#f0f"/>
<path d="M477.4 378.0L477.4 384.3L472.0 381.1Z" fill="#f0f"/>
<path d="M480.7 377.8L480.7 384.1L475.2 380.9Z" fill="#f0f"/>
<path d="M484.0 378.4L484.0 384.7L478.5 381.6Z" fill="#f0f"/>
<path d="M487.3 377.6L487.3 383.9L481.8 380.8Z" fill="#f0f"/>
<path d="M490.5 378.3L490.5 384.6L485.1 381.5Z" fill="#f0f"/>
<path d="M493.8 378.3L493.8 384.6L488.3 381.4Z" fill="#f0f"/>
<path d="M497.1 377.3L497.1 383.6L491.6 380.4Z" fill="#f0f"/>
<path d="M500.4 377.4L500.4 383.7L494.9 380.5Z" fill="#f0f"/>
<path d="M503.6 377.4L503.6 383.7L498.2 380.6Z" fill="#f0f"/>
<path d="M506.9 377.3L506.9 383.6L501.5 380.5Z" fill="#f0f"/>
<path d="M510.2 377.9L510.2 384.2L504.7 381.0Z" fill="#f0f"/>
<path d="M513.5 377.4L513.5 383.7L508.0 380.5Z" fill="#f0f"/>
<path d="M516.7 377.6L516.7 383.9L511.3 380.8Z" fill="#f0f"/>
<path d="M520.0 377.2L520.0 383.5L514.6 380.3Z" fill="#f0f"/>
<path d="M523.3 378.4L523.3 384.7L517.8 381.6Z" fill="#f0f"/>
<path d="M526.6 377.5L526.6 383.8L521.1 380.7Z" fill="#f0f"/>
<path d="M529.9 377.7L529.9 384.0L524.4 380.8Z" fill="#f0f"/>
<path d="M533.1 377.9L533.1 384.2L527.7 381.0Z" fill="#f0f"/>
<path d="M536.4 378.4L536.4 384.7L531.0 381.5Z" fill="#f0f"/>
<path d="M539.7 377.6L539.7 383.9L534.2 380.8Z" fill="#f0f"/>
<path d="M543.0 378.4L543.0 384.7L537.5 381.6Z" fill="#f0f"/>
<path d="M546.2 377.8L546.2 384.1L540.8 380.9Z" fill="#f0f"/>
<path d="M549.5 377.8L549.5 384.1L544.1 381.0Z" fill="#f0f"/>
<path d="M552.8 377.8L552.8 384.1L547.3 380.9Z" fill="#f0f"/>
<path d="M556.1 377.0L556.1 383.3L550.6 380.1Z" fill="#f0f"/>
<path d="M559.3 377.7L559.3 384.0L553.9 380.8Z" fill="#f0f"/>
<path d="M562.6 377.2L562.6 383.5L557.2 380.4Z" fill="#f0f"/>
<path d="M565.9 377.0L565.9 383.3L560.4 380.1Z" fill="#f0f"/>
<path d="M569.2 378.2L569.2 384.5L563.7 381.4Z" fill="#f0f"/>
<path d="M572.5 377.2L572.5 383.5L567.0 380.4Z" fill="#f0f"/>
<path d="M575.7 377.7L575.7 384.0L570.3 380.9Z" fill="#f0f"/>
<path d="M579.0 378.1L579.0 384.4L573.6 381.3Z" fill="#f0f"/>
<path d="M582.3 377.8L582.3 384.1L576.8 381.0Z" fill="#f0f"/>
<path d="M585.6 377.5L585.6 383.8L580.1 380.6Z" fill="#f0f"/>
<path d="M588.8 377.8L588.8 384.1L583.4 380.9Z" fill="#f0f"/>
<polyline points="62.7,234.0 66.0,202.8 69.3,200.3 72.5,202.4 75.8,205.0 79.1,205.3 82.4,200.2 85.6,183.1 88.9,180.9 92.2,184.0 95.5,188.3 98.7,186.9 102.0,178.5 105.3,171.9 108.6,174.1 111.9,177.3 115.1,175.2 118.4,173.4 121.7,172.6 125.0,172.1 128.2,171.0 131.5,172.2 134.8,178.5 138.1,185.2 141.3,188.4 144.6,191.7 147.9,194.2 151.2,196.7 154.5,198.2 157.7,207.0 161.0,213.0 164.3,217.8 167.6,221.4 170.8,226.0 174.1,233.1 177.4,241.2 180.7,247.4 183.9,252.3 187.2,258.0 190.5,265.4 193.8,273.9 197.1,280.2 200.3,285.2 203.6,289.9 206.9,298.6 210.2,305.3 213.4,312.0 216.7,316.9 220.0,321.9 223.3,327.5 226.6,332.5 229.8,337.9 233.1,343.7 236.4,348.0 239.7,351.3 242.9,354.5 246.2,357.7 249.5,360.7 252.8,363.6 256.0,366.5 259.3,369.1 262.6,371.3 265.9,373.2 269.2,374.9 272.4,376.0 275.7,376.2 279.0,376.3 282.3,376.9 285.5,377.5 288.8,378.2 292.1,378.7 295.4,379.0 298.6,379.3 301.9,379.9 305.2,380.9 308.5,380.3 311.8,381.3 315.0,381.0 318.3,381.2 321.6,382.2 324.9,382.0 328.1,382.1 331.4,382.4 334.7,382.7 338.0,381.9 341.2,382.2 344.5,382.0 347.8,382.0 351.1,382.3 354.4,381.9 357.6,382.1 360.9,382.0 364.2,382.7 367.5,382.3 370.7,382.6 374.0,382.7 377.3,381.6 380.6,382.1 383.8,382.7 387.1,382.5 390.4,381.4 393.7,381.4 397.0,381.9 400.2,381.3 403.5,381.6 406.8,381.3 410.1,382.3 413.3,382.5 416.6,382.6 419.9,381.4 423.2,382.3 426.4,382.3 429.7,381.4 433.0,382.6 436.3,382.7 439.6,381.6 442.8,382.7 446.1,381.8 449.4,382.0 452.7,382.8 455.9,382.5 459.2,381.5 462.5,381.9 465.8,382.0 469.0,381.7 472.3,381.5 475.6,381.7 478.9,382.4 482.2,381.2 485.4,382.1 488.7,381.9 492.0,381.2 495.3,381.7 498.5,382.2 501.8,382.0 505.1,381.3 508.4,382.8 511.6,382.5 514.9,382.8 518.2,381.4 521.5,381.6 524.8,381.3 528.0,382.4 531.3,381.6 534.6,381.4 537.9,381.9 541.1,382.7 544.4,382.5 547.7,381.6 551.0,381.4 554.2,382.7 557.5,382.1 560.8,382.3 564.1,381.3 567.4,381.3 570.6,382.3 573.9,381.9 577.2,381.3 580.5,382.7 583.7,382.2 587.0,382.5" fill="none" stroke="#40e0e0" stroke-width="0.75" />
<path d="M62.7 230.7L66.0 234.0L62.7 237.3L59.4 234.0Z" fill="#0ff"/>
<path d="M66.0 199.5L69.3 202.8L66.0 206.1L62.7 202.8Z" fill="#0ff"/>
<path d="M69.3 197.0L72.6 200.3L69.3 203.6L66.0 200.3Z" fill="#0ff"/>
<path d="M72.5 199.1L75.8 202.4L72.5 205.7L69.2 202.4Z" fill="#0ff"/>
<path d="M75.8 201.7L79.1 205.0L75.8 208.3L72.5 205.0Z" fill="#0ff"/>
<path d="M79.1 202.0L82.4 205.3L79.1 208.6L75.8 205.3Z" fill="#0ff"/>
<path d="M82.4 196.9L85.7 200.2L82.4 203.5L79.1 200.2Z" fill="#0ff"/>
<path d="M85.6 179.8L88.9 183.1L85.6 186.4L82.3 183.1Z" fill="#0ff"/>
<path d="M88.9 177.6L92.2 180.9L88.9 184.2L85.6 180.9Z" fill="#0ff"/>
<path d="M92.2 180.7L95.5 184.0L92.2 187.3L88.9 184.0Z" fill="#0ff"/>
<path d="M95.5 185.0L98.8 188.3L95.5 191.6L92.2 188.3Z" fill="#0ff"/>
<path d="M98.7 183.6L102.0 186.9L98.7 190.2L95.4 186.9Z" fill="#0ff"/>
<path d="M102.0 175.2L105.3 178.5L102.0 181.8L98.7 178.5Z" fill="#0ff"/>
<path d="M105.3 168.6L108.6 171.9L105.3 175.2L102.0 171.9Z" fill="#0ff"/>
<path d="M108.6 170.8L111.9 174.1L108.6 177.4L105.3 174.1Z" fill="#0ff"/>
<path d="M111.9 174.0L115.2 177.3L111.9 180.6L108.6 177.3Z" fill="#0ff"/>
<path d="M115.1 171.9L118.4 175.2L115.1 178.5L111.8 175.2Z" fill="#0ff"/>
<path d="M118.4 170.1L121.7 173.4L118.4 176.7L115.1 173.4Z" fill="#0ff"/>
<path d="M121.7 169.3L125.0 172.6L121.7 175.9L118.4 172.6Z" fill="#0ff"/>
<path d="M125.0 168.8L128.3 172.1L125.0 175.4L121.7 172.1Z" fill="#0ff"/>
<path d="M128.2 167.7L131.5 171.0L128.2 174.3L124.9 171.0Z" fill="#0ff"/>
<path d="M131.5 168.9L134.8 172.2L131.5 175.5L128.2 172.2Z" fill="#0ff"/>
<path d="M134.8 175.2L138.1 178.5L134.8 181.8L131.5 178.5Z" fill="#0ff"/>
<path d="M138.1 181.9L141.4 185.2L138.1 188.5L134.8 185.2Z" fill="#0ff"/>
<path d="M141.3 185.1L144.6 188.4L141.3 191.7L138.0 188.4Z" fill="#0ff"/>
<path d="M144.6 188.4L147.9 191.7L144.6 195.0L141.3 191.7Z" fill="#0ff"/>
<path d="M147.9 190.9L151.2 194.2L147.9 197.5L144.6 194.2Z" fill="#0ff"/>
<path d="M151.2 193.4L154.5 196.7L151.2 200.0L147.9 196.7Z" fill="#0ff"/>
<path d="M154.5 194.9L157.8 198.2L154.5 201.5L151.2 198.2Z" fill="#0ff"/>
<path d="M157.7 203.7L161.0 207.0L157.7 210.3L154.4 207.0Z" fill="#0ff"/>
<path d="M161.0 209.7L164.3 213.0L161.0 216.3L157.7 213.0Z" fill="#0ff"/>
<path d="M164.3 214.5L167.6 217.8L164.3 221.1L161.0 217.8Z" fill="#0ff"/>
<path d="M167.6 218.1L170.9 221.4L167.6 224.7L164.3 221.4Z" fill="#0ff"/>
<path d="M170.8 222.7L174.1 226.0L170.8 229.3L167.5 226.0Z" fill="#0ff"/>
<path d="M174.1 229.8L177.4 233.1L174.1 236.4L170.8 233.1Z" fill="#0ff"/>
<path d="M177.4 237.9L180.7 241.2L177.4 244.5L174.1 241.2Z" fill="#0ff"/>
<path d="M180.7 244.1L184.0 247.4L180.7 250.7L177.4 247.4Z" fill="#0ff"/>
<path d="M183.9 249.0L187.2 252.3L183.9 255.6L180.6 252.3Z" fill="#0ff"/>
<path d="M187.2 254.7L190.5 258.0L187.2 261.3L183.9 258.0Z" fill="#0ff"/>
<path d="M190.5 262.1L193.8 265.4L190.5 268.7L187.2 265.4Z" fill="#0ff"/>
<path d="M193.8 270.6L197.1 273.9L193.8 277.2L190.5 273.9Z" fill="#0ff"/>
<path d="M197.1 276.9L200.4 280.2L197.1 283.5L193.8 280.2Z" fill="#0ff"/>
<path d="M200.3 281.9L203.6 285.2L200.3 288.5L197.0 285.2Z" fill="#0ff"/>
<path d="M203.6 286.6L206.9 289.9L203.6 293.2L200.3 289.9Z" fill="#0ff"/>
<path d="M206.9 295.3L210.2 298.6L206.9 301.9L203.6 298.6Z" fill="#0ff"/>
<path d="M210.2 302.0L213.5 305.3L210.2 308.6L206.9 305.3Z" fill="#0ff"/>
<path d="M213.4 308.7L216.7 312.0L213.4 315.3L210.1 312.0Z" fill="#0ff"/>
<path d="M216.7 313.6L220.0 316.9L216.7 320.2L213.4 316.9Z" fill="#0ff"/>
<path d="M220.0 318.6L223.3 321.9L220.0 325.2L216.7 321.9Z" fill="#0ff"/>
<path d="M223.3 324.2L226.6 327.5L223.3 330.8L220.0 327.5Z" fill="#0ff"/>
<path d="M226.6 329.2L229.9 332.5L226.6 335.8L223.2 332.5Z" fill="#0ff"/>
<path d="M229.8 334.6L233.1 337.9L229.8 341.2L226.5 337.9Z" fill="#0ff"/>
<path d="M233.1 340.4L236.4 343.7L233.1 347.0L229.8 343.7Z" fill="#0ff"/>
<path d="M236.4 344.7L239.7 348.0L236.4 351.3L233.1 348.0Z" fill="#0ff"/>
<path d="M239.7 348.0L243.0 351.3L239.7 354.6L236.4 351.3Z" fill="#0ff"/>
<path d="M242.9 351.2L246.2 354.5L242.9 357.8L239.6 354.5Z" fill="#0ff"/>
<path d="M246.2 354.4L249.5 357.7L246.2 361.0L242.9 357.7Z" fill="#0ff"/>
<path d="M249.5 357.4L252.8 360.7L249.5 364.0L246.2 360.7Z" fill="#0ff"/>
<path d="M252.8 360.3L256.1 363.6L252.8 366.9L249.5 363.6Z" fill="#0ff"/>
<path d="M256.0 363.2L259.3 366.5L256.0 369.8L252.7 366.5Z" fill="#0ff"/>
<path d="M259.3 365.8L262.6 369.1L259.3 372.4L256.0 369.1Z" fill="#0ff"/>
<path d="M262.6 368.0L265.9 371.3L262.6 374.6L259.3 371.3Z" fill="#0ff"/>
<path d="M265.9 369.9L269.2 373.2L265.9 376.5L262.6 373.2Z" fill="#0ff"/>
<path d="M269.2 371.6L272.5 374.9L269.2 378.2L265.9 374.9Z" fill="#0ff"/>
<path d="M272.4 372.7L275.7 376.0L272.4 379.3L269.1 376.0Z" fill="#0ff"/>
<path d="M275.7 372.9L279.0 376.2L275.7 379.5L272.4 376.2Z" fill="#0ff"/>
<path d="M279.0 373.0L282.3 376.3L279.0 379.6L275.7 376.3Z" fill="#0ff"/>
<path d="M282.3 373.6L285.6 376.9L282.3 380.2L279.0 376.9Z" fill="#0ff"/>
<path d="M285.5 374.2L288.8 377.5L285.5 380.8L282.2 377.5Z" fill="#0ff"/>
<path d="M288.8 374.9L292.1 378.2L288.8 381.5L285.5 378.2Z" fill="#0ff"/>
<path d="M292.1 375.4L295.4 378.7L292.1 382.0L288.8 378.7Z" fill="#0ff"/>
<path d="M295.4 375.7L298.7 379.0L295.4 382.3L292.1 379.0Z" fill="#0ff"/>
<path d="M298.6 376.0L301.9 379.3L298.6 382.6L295.3 379.3Z" fill="#0ff"/>
<path d="M301.9 376.6L305.2 379.9L301.9 383.2L298.6 379.9Z" fill="#0ff"/>
<path d="M305.2 377.6L308.5 380.9L305.2 384.2L301.9 380.9Z" fill="#0ff"/>
<path d="M308.5 377.0L311.8 380.3L308.5 383.6L305.2 380.3Z" fill="#0ff"/>
<path d="M311.8 378.0L315.1 381.3L311.8 384.6L308.5 381.3Z" fill="#0ff"/>
<path d="M315.0 377.7L318.3 381.0L315.0 384.3L311.7 381.0Z" fill="#0ff"/>
<path d="M318.3 377.9L321.6 381.2L318.3 384.5L315.0 381.2Z" fill="#0ff"/>
<path d="M321.6 378.9L324.9 382.2L321.6 385.5L318.3 382.2Z" fill="#0ff"/>
<path d="M324.9 378.7L328.2 382.0L324.9 385.3L321.6 382.0Z" fill="#0ff"/>
<path d="M328.1 378.8L331.4 382.1L328.1 385.4L324.8 382.1Z" fill="#0ff"/>
<path d="M331.4 379.1L334.7 382.4L331.4 385.7L328.1 382.4Z" fill="#0ff"/>
<path d="M334.7 379.4L338.0 382.7L334.7 386.0L331.4 382.7Z" fill="#0ff"/>
<path d="M338.0 378.6L341.3 381.9L338.0 385.2L334.7 381.9Z" fill="#0ff"/>
<path d="M341.2 378.9L344.5 382.2L341.2 385.5L337.9 382.2Z" fill="#0ff"/>
<path d="M344.5 378.7L347.8 382.0L344.5 385.3L341.2 382.0Z" fill="#0ff"/>
<path d="M347.8 378.7L351.1 382.0L347.8 385.3L344.5 382.0Z" fill="#0ff"/>
<path d="M351.1 379.0L354.4 382.3L351.1 385.6L347.8 382.3Z" fill="#0ff"/>
<path d="M354.4 378.6L357.7 381.9L354.4 385.2L351.1 381.9Z" fill="#0ff"/>
<path d="M357.6 378.8L360.9 382.1L357.6 385.4L354.3 382.1Z" fill="#0ff"/>
<path d="M360.9 378.7L364.2 382.0L360.9 385.3L357.6 382.0Z" fill="#0ff"/>
<path d="M364.2 379.4L367.5 382.7L364.2 386.0L360.9 382.7Z" fill="#0ff"/>
<path d="M367.5 379.0L370.8 382.3L367.5 385.6L364.2 382.3Z" fill="#0ff"/>
<path d="M370.7 379.3L374.0 382.6L370.7 385.9L367.4 382.6Z" fill="#0ff"/>
<path d="M374.0 379.4L377.3 382.7L374.0 386.0L370.7 382.7Z" fill="#0ff"/>
<path d="M377.3 378.3L380.6 381.6L377.3 384.9L374.0 381.6Z" fill="#0ff"/>
<path d="M380.6 378.8L383.9 382.1L380.6 385.4L377.3 382.1Z" fill="#0ff"/>
<path d="M383.8 379.4L387.1 382.7L383.8 386.0L380.5 382.7Z" fill="#0ff"/>
<path d="M387.1 379.2L390.4 382.5L387.1 385.8L383.8 382.5Z" fill="#0ff"/>
<path d="M390.4 378.1L393.7 381.4L390.4 384.7L387.1 381.4Z" fill="#0ff"/>
<path d="M393.7 378.1L397.0 381.4L393.7 384.7L390.4 381.4Z" fill="#0ff"/>
<path d="M397.0 378.6L400.3 381.9L397.0 385.2L393.7 381.9Z" fill="#0ff"/>
<path d="M400.2 378.0L403.5 381.3L400.2 384.6L396.9 381.3Z" fill="#0ff"/>
<path d="M403.5 378.3L406.8 381.6L403.5 384.9L400.2 381.6Z" fill="#0ff"/>
<path d="M406.8 378.0L410.1 381.3L406.8 384.6L403.5 381.3Z" fill="#0ff"/>
<path d="M410.1 379.0L413.4 382.3L410.1 385.6L406.8 382.3Z" fill="#0ff"/>
<path d="M413.3 379.2L416.6 382.5L413.3 385.8L410.0 382.5Z" fill="#0ff"/>
<path d="M416.6 379.3L419.9 382.6L416.6 385.9L413.3 382.6Z" fill="#0ff"/>
<path d="M419.9 378.1L423.2 381.4L419.9 384.7L416.6 381.4Z" fill="#0ff"/>
<path d="M423.2 379.0L426.5 382.3L423.2 385.6L419.9 382.3Z" fill="#0ff"/>
<path d="M426.4 379.0L429.7 382.3L426.4 385.6L423.1 382.3Z" fill="#0ff"/>
<path d="M429.7 378.1L433.0 381.4L429.7 384.7L426.4 381.4Z" fill="#0ff"/>
<path d="M433.0 379.3L436.3 382.6L433.0 385.9L429.7 382.6Z" fill="#0ff"/>
<path d="M436.3 379.4L439.6 382.7L436.3 386.0L433.0 382.7Z" fill="#0ff"/>
<path d="M439.6 378.3L442.9 381.6L439.6 384.9L436.3 381.6Z" fill="#0ff"/>
<path d="M442.8 379.4L446.1 382.7L442.8 386.0L439.5 382.7Z" fill="#0ff"/>
<path d="M446.1 378.5L449.4 381.8L446.1 385.1L442.8 381.8Z" fill="#0ff"/>
<path d="M449.4 378.7L452.7 382.0L449.4 385.3L446.1 382.0Z" fill="#0ff"/>
<path d="M452.7 379.5L456.0 382.8L452.7 386.1L449.4 382.8Z" fill="#0ff"/>
<path d="M455.9 379.2L459.2 382.5L455.9 385.8L452.6 382.5Z" fill="#0ff"/>
<path d="M459.2 378.2L462.5 381.5L459.2 384.8L455.9 381.5Z" fill="#0ff"/>
<path d="M462.5 378.6L465.8 381.9L462.5 385.2L459.2 381.9Z" fill="#0ff"/>
<path d="M465.8 378.7L469.1 382.0L465.8 385.3L462.5 382.0Z" fill="#0ff"/>
<path d="M469.0 378.4L472.3 381.7L469.0 385.0L465.7 381.7Z" fill="#0ff"/>
<path d="M472.3 378.2L475.6 381.5L472.3 384.8L469.0 381.5Z" fill="#0ff"/>
<path d="M475.6 378.4L478.9 381.7L475.6 385.0L472.3 381.7Z" fill="#0ff"/>
<path d="M478.9 379.1L482.2 382.4L478.9 385.7L475.6 382.4Z" fill="#0ff"/>
<path d="M482.2 377.9L485.5 381.2L482.2 384.5L478.9 381.2Z" fill="#0ff"/>
<path d="M485.4 378.8L488.7 382.1L485.4 385.4L482.1 382.1Z" fill="#0ff"/>
<path d="M488.7 378.6L492.0 381.9L488.7 385.2L485.4 381.9Z" fill="#0ff"/>
<path d="M492.0 377.9L495.3 381.2L492.0 384.5L488.7 381.2Z" fill="#0ff"/>
<path d="M495.3 378.4L498.6 381.7L495.3 385.0L492.0 381.7Z" fill="#0ff"/>
<path d="M498.5 378.9L501.8 382.2L498.5 385.5L495.2 382.2Z" fill="#0ff"/>
<path d="M501.8 378.7L505.1 382.0L501.8 385.3L498.5 382.0Z" fill="#0ff"/>
<path d="M505.1 378.0L508.4 381.3L505.1 384.6L501.8 381.3Z" fill="#0ff"/>
<path d="M508.4 379.5L511.7 382.8L508.4 386.1L505.1 382.8Z" fill="#0ff"/>
<path d="M511.6 379.2L514.9 382.5L511.6 385.8L508.3 382.5Z" fill="#0ff"/>
<path d="M514.9 379.5L518.2 382.8L514.9 386.1L511.6 382.8Z" fill="#0ff"/>
<path d="M518.2 378.1L521.5 381.4L518.2 384.7L514.9 381.4Z" fill="#0ff"/>
<path d="M521.5 378.3L524.8 381.6L521.5 384.9L518.2 381.6Z" fill="#0ff"/>
<path d="M524.8 378.0L528.1 381.3L524.8 384.6L521.5 381.3Z" fill="#0ff"/>
<path d="M528.0 379.1L531.3 382.4L528.0 385.7L524.7 382.4Z" fill="#0ff"/>
<path d="M531.3 378.3L534.6 381.6L531.3 384.9L528.0 381.6Z" fill="#0ff"/>
<path d="M534.6 378.1L537.9 381.4L534.6 384.7L531.3 381.4Z" fill="#0ff"/>
<path d="M537.9 378.6L541.2 381.9L537.9 385.2L534.6 381.9Z" fill="#0ff"/>
<path d="M541.1 379.4L544.4 382.7L541.1 386.0L537.8 382.7Z" fill="#0ff"/>
<path d="M544.4 379.2L547.7 382.5L544.4 385.8L541.1 382.5Z" fill="#0ff"/>
<path d="M547.7 378.3L551.0 381.6L547.7 384.9L544.4 381.6Z" fill="#0ff"/>
<path d="M551.0 378.1L554.3 381.4L551.0 384.7L547.7 381.4Z" fill="#0ff"/>
<path d="M554.2 379.4L557.5 382.7L554.2 386.0L551.0 382.7Z" fill="#0ff"/>
<path d="M557.5 378.8L560.8 382.1L557.5 385.4L554.2 382.1Z" fill="#0ff"/>
<path d="M560.8 379.0L564.1 382.3L560.8 385.6L557.5 382.3Z" fill="#0ff"/>
<path d="M564.1 378.0L567.4 381.3L564.1 384.6L560.8 381.3Z" fill="#0ff"/>
<path d="M567.4 378.0L570.7 381.3L567.4 384.6L564.1 381.3Z" fill="#0ff"/>
<path d="M570.6 379.0L573.9 382.3L570.6 385.6L567.3 382.3Z" fill="#0ff"/>
<path d="M573.9 378.6L577.2 381.9L573.9 385.2L570.6 381.9Z" fill="#0ff"/>
<path d="M577.2 378.0L580.5 381.3L577.2 384.6L573.9 381.3Z" fill="#0ff"/>
<path d="M580.5 379.4L583.8 382.7L580.5 386.0L577.2 382.7Z" fill="#0ff"/>
<path d="M583.7 378.9L587.0 382.2L583.7 385.5L580.4 382.2Z" fill="#0ff"/>
<path d="M587.0 379.2L590.3 382.5L587.0 385.8L583.7 382.5Z" fill="#0ff"/>
<polyline points="62.7,177.0 66.0,172.9 69.3,158.2 72.5,157.0 75.8,163.5 79.1,168.3 82.4,162.6 85.6,142.1 88.9,137.0 92.2,140.9 95.5,145.8 98.7,144.9 102.0,137.4 105.3,130.2 108.6,133.4 111.9,136.0 115.1,135.5 118.4,134.5 121.7,132.9 125.0,131.7 128.2,130.8 131.5,134.0 134.8,140.2 138.1,147.7 141.3,151.8 144.6,155.0 147.9,159.2 151.2,160.8 154.5,164.1 157.7,172.8 161.0,182.0 164.3,187.0 167.6,188.2 170.8,195.8 174.1,205.3 177.4,216.2 180.7,221.4 183.9,228.7 187.2,234.5 190.5,242.8 193.8,252.7 197.1,259.9 200.3,265.2 203.6,271.5 206.9,280.2 210.2,290.9 213.4,296.3 216.7,303.3 220.0,309.0 223.3,316.4 226.6,323.0 229.8,327.9 233.1,332.7 236.4,339.7 239.7,345.6 242.9,349.2 246.2,351.8 249.5,355.6 252.8,359.1 256.0,362.3 259.3,365.4 262.6,368.2 265.9,370.7 269.2,372.7 272.4,373.8 275.7,374.5 279.0,375.1 282.3,375.9 285.5,376.5 288.8,377.2 292.1,377.8 295.4,378.2 298.6,378.7 301.9,378.8 305.2,380.1 308.5,379.5 311.8,380.7 315.0,380.3 318.3,380.3 321.6,380.6 324.9,381.0 328.1,380.2 331.4,380.1 334.7,380.5 338.0,380.2 341.2,380.0 344.5,380.1 347.8,380.0 351.1,380.1 354.4,380.3 357.6,380.3 360.9,380.8 364.2,380.2 367.5,380.5 370.7,380.1 374.0,380.3 377.3,379.9 380.6,380.2 383.8,379.9 387.1,380.8 390.4,380.6 393.7,380.1 397.0,380.5 400.2,381.0 403.5,380.0 406.8,380.9 410.1,380.4 413.3,380.5 416.6,380.9 419.9,380.4 423.2,380.5 426.4,380.7 429.7,381.1 433.0,380.3 436.3,380.9 439.6,380.7 442.8,380.7 446.1,380.4 449.4,380.3 452.7,380.0 455.9,380.1 459.2,380.0 462.5,380.8 465.8,380.2 469.0,380.1 472.3,380.0 475.6,380.9 478.9,380.9 482.2,380.7 485.4,380.2 488.7,380.2 492.0,380.3 495.3,380.5 498.5,380.1 501.8,380.4 505.1,380.2 508.4,381.1 511.6,381.1 514.9,380.6 518.2,380.2 521.5,381.1 524.8,380.3 528.0,380.3 531.3,379.9 534.6,380.4 537.9,380.5 541.1,380.5 544.4,380.1 547.7,380.5 551.0,379.9 554.2,380.2 557.5,380.0 560.8,380.4 564.1,380.0 567.4,379.9 570.6,380.3 573.9,380.2 577.2,380.6 580.5,380.5 583.7,380.8 587.0,380.7" fill="none" stroke="#40c840" stroke-width="0.75" />
<path d="M59.5 178.9L66.0 178.9L62.7 173.2Z" fill="#0e0"/>
<path d="M62.7 174.8L69.2 174.8L66.0 169.2Z" fill="#0e0"/>
<path d="M66.0 160.1L72.5 160.1L69.3 154.5Z" fill="#0e0"/>
<path d="M69.3 158.8L75.8 158.8L72.5 153.2Z" fill="#0e0"/>
<path d="M72.6 165.3L79.1 165.3L75.8 159.7Z" fill="#0e0"/>
<path d="M75.8 170.2L82.3 170.2L79.1 164.5Z" fill="#0e0"/>
<path d="M79.1 164.4L85.6 164.4L82.4 158.8Z" fill="#0e0"/>
<path d="M82.4 144.0L88.9 144.0L85.6 138.3Z" fill="#0e0"/>
<path d="M85.7 138.8L92.2 138.8L88.9 133.2Z" fill="#0e0"/>
<path d="M88.9 142.8L95.4 142.8L92.2 137.2Z" fill="#0e0"/>
<path d="M92.2 147.7L98.7 147.7L95.5 142.0Z" fill="#0e0"/>
<path d="M95.5 146.8L102.0 146.8L98.7 141.1Z" fill="#0e0"/>
<path d="M98.8 139.3L105.3 139.3L102.0 133.6Z" fill="#0e0"/>
<path d="M102.1 132.1L108.6 132.1L105.3 126.4Z" fill="#0e0"/>
<path d="M105.3 135.3L111.8 135.3L108.6 129.6Z" fill="#0e0"/>
<path d="M108.6 137.9L115.1 137.9L111.9 132.3Z" fill="#0e0"/>
<path d="M111.9 137.3L118.4 137.3L115.1 131.7Z" fill="#0e0"/>
<path d="M115.2 136.4L121.7 136.4L118.4 130.7Z" fill="#0e0"/>
<path d="M118.4 134.8L124.9 134.8L121.7 129.2Z" fill="#0e0"/>
<path d="M121.7 133.6L128.2 133.6L125.0 128.0Z" fill="#0e0"/>
<path d="M125.0 132.7L131.5 132.7L128.2 127.1Z" fill="#0e0"/>
<path d="M128.3 135.9L134.8 135.9L131.5 130.3Z" fill="#0e0"/>
<path d="M131.5 142.1L138.0 142.1L134.8 136.5Z" fill="#0e0"/>
<path d="M134.8 149.6L141.3 149.6L138.1 144.0Z" fill="#0e0"/>
<path d="M138.1 153.7L144.6 153.7L141.3 148.1Z" fill="#0e0"/>
<path d="M141.4 156.9L147.9 156.9L144.6 151.3Z" fill="#0e0"/>
<path d="M144.7 161.1L151.2 161.1L147.9 155.4Z" fill="#0e0"/>
<path d="M147.9 162.7L154.4 162.7L151.2 157.0Z" fill="#0e0"/>
<path d="M151.2 165.9L157.7 165.9L154.5 160.3Z" fill="#0e0"/>
<path d="M154.5 174.7L161.0 174.7L157.7 169.1Z" fill="#0e0"/>
<path d="M157.8 183.8L164.3 183.8L161.0 178.2Z" fill="#0e0"/>
<path d="M161.0 188.9L167.5 188.9L164.3 183.3Z" fill="#0e0"/>
<path d="M164.3 190.1L170.8 190.1L167.6 184.5Z" fill="#0e0"/>
<path d="M167.6 197.7L174.1 197.7L170.8 192.0Z" fill="#0e0"/>
<path d="M170.9 207.2L177.4 207.2L174.1 201.5Z" fill="#0e0"/>
<path d="M174.1 218.1L180.6 218.1L177.4 212.5Z" fill="#0e0"/>
<path d="M177.4 223.3L183.9 223.3L180.7 217.7Z" fill="#0e0"/>
<path d="M180.7 230.6L187.2 230.6L183.9 225.0Z" fill="#0e0"/>
<path d="M184.0 236.4L190.5 236.4L187.2 230.8Z" fill="#0e0"/>
<path d="M187.3 244.7L193.8 244.7L190.5 239.1Z" fill="#0e0"/>
<path d="M190.5 254.6L197.0 254.6L193.8 248.9Z" fill="#0e0"/>
<path d="M193.8 261.8L200.3 261.8L197.1 256.2Z" fill="#0e0"/>
<path d="M197.1 267.1L203.6 267.1L200.3 261.5Z" fill="#0e0"/>
<path d="M200.4 273.4L206.9 273.4L203.6 267.8Z" fill="#0e0"/>
<path d="M203.6 282.1L210.1 282.1L206.9 276.5Z" fill="#0e0"/>
<path d="M206.9 292.8L213.4 292.8L210.2 287.2Z" fill="#0e0"/>
<path d="M210.2 298.2L216.7 298.2L213.4 292.5Z" fill="#0e0"/>
<path d="M213.5 305.2L220.0 305.2L216.7 299.6Z" fill="#0e0"/>
<path d="M216.7 310.9L223.2 310.9L220.0 305.3Z" fill="#0e0"/>
<path d="M220.0 318.3L226.5 318.3L223.3 312.7Z" fill="#0e0"/>
<path d="M223.3 324.9L229.8 324.9L226.6 319.2Z" fill="#0e0"/>
<path d="M226.6 329.8L233.1 329.8L229.8 324.1Z" fill="#0e0"/>
<path d="M229.9 334.5L236.4 334.5L233.1 328.9Z" fill="#0e0"/>
<path d="M233.1 341.5L239.6 341.5L236.4 335.9Z" fill="#0e0"/>
<path d="M236.4 347.5L242.9 347.5L239.7 341.9Z" fill="#0e0"/>
<path d="M239.7 351.1L246.2 351.1L242.9 345.5Z" fill="#0e0"/>
<path d="M243.0 353.7L249.5 353.7L246.2 348.1Z" fill="#0e0"/>
<path d="M246.2 357.5L252.7 357.5L249.5 351.9Z" fill="#0e0"/>
<path d="M249.5 360.9L256.0 360.9L252.8 355.3Z" fill="#0e0"/>
<path d="M252.8 364.1L259.3 364.1L256.0 358.5Z" fill="#0e0"/>
<path d="M256.1 367.3L262.6 367.3L259.3 361.6Z" fill="#0e0"/>
<path d="M259.3 370.0L265.8 370.0L262.6 364.4Z" fill="#0e0"/>
<path d="M262.6 372.6L269.1 372.6L265.9 366.9Z" fill="#0e0"/>
<path d="M265.9 374.5L272.4 374.5L269.2 368.9Z" fill="#0e0"/>
<path d="M269.2 375.7L275.7 375.7L272.4 370.0Z" fill="#0e0"/>
<path d="M272.5 376.4L279.0 376.4L275.7 370.7Z" fill="#0e0"/>
<path d="M275.7 377.0L282.2 377.0L279.0 371.3Z" fill="#0e0"/>
<path d="M279.0 377.7L285.5 377.7L282.3 372.1Z" fill="#0e0"/>
<path d="M282.3 378.4L288.8 378.4L285.5 372.8Z" fill="#0e0"/>
<path d="M285.6 379.1L292.1 379.1L288.8 373.4Z" fill="#0e0"/>
<path d="M288.8 379.6L295.3 379.6L292.1 374.0Z" fill="#0e0"/>
<path d="M292.1 380.1L298.6 380.1L295.4 374.5Z" fill="#0e0"/>
<path d="M295.4 380.6L301.9 380.6L298.6 375.0Z" fill="#0e0"/>
<path d="M298.7 380.6L305.2 380.6L301.9 375.0Z" fill="#0e0"/>
<path d="M301.9 382.0L308.4 382.0L305.2 376.4Z" fill="#0e0"/>
<path d="M305.2 381.4L311.7 381.4L308.5 375.8Z" fill="#0e0"/>
<path d="M308.5 382.6L315.0 382.6L311.8 377.0Z" fill="#0e0"/>
<path d="M311.8 382.2L318.3 382.2L315.0 376.6Z" fill="#0e0"/>
<path d="M315.1 382.2L321.6 382.2L318.3 376.5Z" fill="#0e0"/>
<path d="M318.3 382.4L324.8 382.4L321.6 376.8Z" fill="#0e0"/>
<path d="M321.6 382.9L328.1 382.9L324.9 377.3Z" fill="#0e0"/>
<path d="M324.9 382.1L331.4 382.1L328.1 376.5Z" fill="#0e0"/>
<path d="M328.2 381.9L334.7 381.9L331.4 376.3Z" fill="#0e0"/>
<path d="M331.4 382.4L337.9 382.4L334.7 376.8Z" fill="#0e0"/>
<path d="M334.7 382.1L341.2 382.1L338.0 376.4Z" fill="#0e0"/>
<path d="M338.0 381.9L344.5 381.9L341.2 376.3Z" fill="#0e0"/>
<path d="M341.3 382.0L347.8 382.0L344.5 376.3Z" fill="#0e0"/>
<path d="M344.5 381.8L351.0 381.8L347.8 376.2Z" fill="#0e0"/>
<path d="M347.8 382.0L354.3 382.0L351.1 376.4Z" fill="#0e0"/>
<path d="M351.1 382.2L357.6 382.2L354.4 376.5Z" fill="#0e0"/>
<path d="M354.4 382.1L360.9 382.1L357.6 376.5Z" fill="#0e0"/>
<path d="M357.7 382.7L364.2 382.7L360.9 377.1Z" fill="#0e0"/>
<path d="M360.9 382.1L367.4 382.1L364.2 376.5Z" fill="#0e0"/>
<path d="M364.2 382.4L370.7 382.4L367.5 376.7Z" fill="#0e0"/>
<path d="M367.5 382.0L374.0 382.0L370.7 376.4Z" fill="#0e0"/>
<path d="M370.8 382.2L377.3 382.2L374.0 376.6Z" fill="#0e0"/>
<path d="M374.0 381.8L380.5 381.8L377.3 376.2Z" fill="#0e0"/>
<path d="M377.3 382.1L383.8 382.1L380.6 376.4Z" fill="#0e0"/>
<path d="M380.6 381.8L387.1 381.8L383.8 376.2Z" fill="#0e0"/>
<path d="M383.9 382.7L390.4 382.7L387.1 377.0Z" fill="#0e0"/>
<path d="M387.1 382.4L393.6 382.4L390.4 376.8Z" fill="#0e0"/>
<path d="M390.4 382.0L396.9 382.0L393.7 376.4Z" fill="#0e0"/>
<path d="M393.7 382.3L400.2 382.3L397.0 376.7Z" fill="#0e0"/>
<path d="M397.0 382.9L403.5 382.9L400.2 377.3Z" fill="#0e0"/>
<path d="M400.3 381.9L406.8 381.9L403.5 376.3Z" fill="#0e0"/>
<path d="M403.5 382.8L410.0 382.8L406.8 377.1Z" fill="#0e0"/>
<path d="M406.8 382.3L413.3 382.3L410.1 376.7Z" fill="#0e0"/>
<path d="M410.1 382.4L416.6 382.4L413.3 376.7Z" fill="#0e0"/>
<path d="M413.4 382.8L419.9 382.8L416.6 377.1Z" fill="#0e0"/>
<path d="M416.6 382.2L423.1 382.2L419.9 376.6Z" fill="#0e0"/>
<path d="M419.9 382.4L426.4 382.4L423.2 376.8Z" fill="#0e0"/>
<path d="M423.2 382.6L429.7 382.6L426.4 377.0Z" fill="#0e0"/>
<path d="M426.5 383.0L433.0 383.0L429.7 377.3Z" fill="#0e0"/>
<path d="M429.8 382.2L436.3 382.2L433.0 376.6Z" fill="#0e0"/>
<path d="M433.0 382.8L439.5 382.8L436.3 377.1Z" fill="#0e0"/>
<path d="M436.3 382.6L442.8 382.6L439.6 377.0Z" fill="#0e0"/>
<path d="M439.6 382.5L446.1 382.5L442.8 376.9Z" fill="#0e0"/>
<path d="M442.9 382.3L449.4 382.3L446.1 376.6Z" fill="#0e0"/>
<path d="M446.1 382.2L452.6 382.2L449.4 376.6Z" fill="#0e0"/>
<path d="M449.4 381.8L455.9 381.8L452.7 376.2Z" fill="#0e0"/>
<path d="M452.7 381.9L459.2 381.9L455.9 376.3Z" fill="#0e0"/>
<path d="M456.0 381.9L462.5 381.9L459.2 376.2Z" fill="#0e0"/>
<path d="M459.2 382.7L465.7 382.7L462.5 377.0Z" fill="#0e0"/>
<path d="M462.5 382.1L469.0 382.1L465.8 376.5Z" fill="#0e0"/>
<path d="M465.8 382.0L472.3 382.0L469.0 376.3Z" fill="#0e0"/>
<path d="M469.1 381.9L475.6 381.9L472.3 376.2Z" fill="#0e0"/>
<path d="M472.4 382.8L478.9 382.8L475.6 377.2Z" fill="#0e0"/>
<path d="M475.6 382.8L482.1 382.8L478.9 377.2Z" fill="#0e0"/>
<path d="M478.9 382.6L485.4 382.6L482.2 377.0Z" fill="#0e0"/>
<path d="M482.2 382.1L488.7 382.1L485.4 376.5Z" fill="#0e0"/>
<path d="M485.5 382.1L492.0 382.1L488.7 376.4Z" fill="#0e0"/>
<path d="M488.7 382.1L495.2 382.1L492.0 376.5Z" fill="#0e0"/>
<path d="M492.0 382.3L498.5 382.3L495.3 376.7Z" fill="#0e0"/>
<path d="M495.3 382.0L501.8 382.0L498.5 376.3Z" fill="#0e0"/>
<path d="M498.6 382.3L505.1 382.3L501.8 376.7Z" fill="#0e0"/>
<path d="M501.8 382.1L508.3 382.1L505.1 376.5Z" fill="#0e0"/>
<path d="M505.1 382.9L511.6 382.9L508.4 377.3Z" fill="#0e0"/>
<path d="M508.4 382.9L514.9 382.9L511.6 377.3Z" fill="#0e0"/>
<path d="M511.7 382.4L518.2 382.4L514.9 376.8Z" fill="#0e0"/>
<path d="M515.0 382.1L521.5 382.1L518.2 376.4Z" fill="#0e0"/>
<path d="M518.2 382.9L524.7 382.9L521.5 377.3Z" fill="#0e0"/>
<path d="M521.5 382.1L528.0 382.1L524.8 376.5Z" fill="#0e0"/>
<path d="M524.8 382.2L531.3 382.2L528.0 376.6Z" fill="#0e0"/>
<path d="M528.1 381.8L534.6 381.8L531.3 376.1Z" fill="#0e0"/>
<path d="M531.3 382.2L537.8 382.2L534.6 376.6Z" fill="#0e0"/>
<path d="M534.6 382.3L541.1 382.3L537.9 376.7Z" fill="#0e0"/>
<path d="M537.9 382.4L544.4 382.4L541.1 376.8Z" fill="#0e0"/>
<path d="M541.2 382.0L547.7 382.0L544.4 376.4Z" fill="#0e0"/>
<path d="M544.4 382.4L550.9 382.4L547.7 376.8Z" fill="#0e0"/>
<path d="M547.7 381.8L554.2 381.8L551.0 376.2Z" fill="#0e0"/>
<path d="M551.0 382.1L557.5 382.1L554.2 376.5Z" fill="#0e0"/>
<path d="M554.3 381.9L560.8 381.9L557.5 376.3Z" fill="#0e0"/>
<path d="M557.6 382.3L564.1 382.3L560.8 376.6Z" fill="#0e0"/>
<path d="M560.8 381.8L567.3 381.8L564.1 376.2Z" fill="#0e0"/>
<path d="M564.1 381.8L570.6 381.8L567.4 376.2Z" fill="#0e0"/>
<path d="M567.4 382.1L573.9 382.1L570.6 376.5Z" fill="#0e0"/>
<path d="M570.7 382.1L577.2 382.1L573.9 376.4Z" fill="#0e0"/>
<path d="M573.9 382.5L580.4 382.5L577.2 376.9Z" fill="#0e0"/>
<path d="M577.2 382.4L583.7 382.4L580.5 376.8Z" fill="#0e0"/>
<path d="M580.5 382.7L587.0 382.7L583.7 377.0Z" fill="#0e0"/>
<path d="M583.8 382.6L590.3 382.6L587.0 376.9Z" fill="#0e0"/>
<polyline points="62.7,119.5 66.0,117.0 69.3,101.5 72.5,99.4 75.8,106.1 79.1,110.7 82.4,104.8 85.6,79.5 88.9,76.9 92.2,79.8 95.5,85.2 98.7,83.7 102.0,75.0 105.3,68.7 108.6,71.9 111.9,74.6 115.1,76.0 118.4,76.7 121.7,76.8 125.0,76.3 128.2,73.9 131.5,79.0 134.8,87.9 138.1,94.6 141.3,98.3 144.6,103.3 147.9,109.1 151.2,112.8 154.5,117.0 157.7,127.4 161.0,135.7 164.3,141.9 167.6,145.5 170.8,152.5 174.1,164.8 177.4,175.8 180.7,183.1 183.9,190.3 187.2,197.0 190.5,209.2 193.8,220.6 197.1,228.9 200.3,236.5 203.6,244.8 206.9,255.1 210.2,267.4 213.4,275.2 216.7,282.6 220.0,291.4 223.3,299.7 226.6,307.9 229.8,312.2 233.1,318.6 236.4,326.7 239.7,334.0 242.9,338.3 246.2,342.1 249.5,347.0 252.8,351.2 256.0,354.7 259.3,358.9 262.6,362.1 265.9,364.7 269.2,367.1 272.4,368.9 275.7,370.2 279.0,371.8 282.3,372.8 285.5,373.6 288.8,374.2 292.1,375.3 295.4,376.4 298.6,377.5 301.9,379.3 305.2,380.5 308.5,379.5 311.8,378.8 315.0,381.4 318.3,379.9 321.6,381.4 324.9,381.3 328.1,379.9 331.4,381.8 334.7,381.9 338.0,381.3 341.2,381.6 344.5,381.7 347.8,380.1 351.1,381.1 354.4,381.0 357.6,381.8 360.9,381.7 364.2,381.8 367.5,381.2 370.7,381.9 374.0,381.4 377.3,381.5 380.6,380.4 383.8,379.9 387.1,380.1 390.4,380.7 393.7,380.1 397.0,381.8 400.2,381.1 403.5,381.3 406.8,381.3 410.1,381.4 413.3,381.0 416.6,379.8 419.9,381.7 423.2,381.6 426.4,381.0 429.7,381.1 433.0,381.4 436.3,380.0 439.6,381.6 442.8,380.4 446.1,380.0 449.4,380.4 452.7,381.6 455.9,380.3 459.2,381.6 462.5,382.1 465.8,381.0 469.0,380.7 472.3,380.9 475.6,381.4 478.9,381.6 482.2,381.3 485.4,381.3 488.7,380.0 492.0,380.2 495.3,380.4 498.5,381.6 501.8,380.5 505.1,381.2 508.4,379.8 511.6,379.9 514.9,380.4 518.2,381.4 521.5,381.5 524.8,381.4 528.0,380.5 531.3,381.0 534.6,380.9 537.9,380.9 541.1,380.1 544.4,381.9 547.7,380.3 551.0,382.1 554.2,382.0 557.5,379.8 560.8,380.9 564.1,381.8 567.4,382.1 570.6,380.9 573.9,380.4 577.2,380.3 580.5,382.1 583.7,380.3 587.0,381.2" fill="none" stroke="#4848d0" stroke-width="0.75" />
<path d="M59.5 117.6L66.0 117.6L62.7 123.3Z" fill="#00f"/>
<path d="M62.7 115.1L69.2 115.1L66.0 120.7Z" fill="#00f"/>
<path d="M66.0 99.6L72.5 99.6L69.3 105.3Z" fill="#00f"/>
<path d="M69.3 97.5L75.8 97.5L72.5 103.2Z" fill="#00f"/>
<path d="M72.6 104.3L79.1 104.3L75.8 109.9Z" fill="#00f"/>
<path d="M75.8 108.8L82.3 108.8L79.1 114.4Z" fill="#00f"/>
<path d="M79.1 102.9L85.6 102.9L82.4 108.5Z" fill="#00f"/>
<path d="M82.4 77.6L88.9 77.6L85.6 83.3Z" fill="#00f"/>
<path d="M85.7 75.0L92.2 75.0L88.9 80.6Z" fill="#00f"/>
<path d="M88.9 77.9L95.4 77.9L92.2 83.6Z" fill="#00f"/>
<path d="M92.2 83.3L98.7 83.3L95.5 88.9Z" fill="#00f"/>
<path d="M95.5 81.8L102.0 81.8L98.7 87.5Z" fill="#00f"/>
<path d="M98.8 73.1L105.3 73.1L102.0 78.7Z" fill="#00f"/>
<path d="M102.1 66.8L108.6 66.8L105.3 72.4Z" fill="#00f"/>
<path d="M105.3 70.1L111.8 70.1L108.6 75.7Z" fill="#00f"/>
<path d="M108.6 72.7L115.1 72.7L111.9 78.3Z" fill="#00f"/>
<path d="M111.9 74.1L118.4 74.1L115.1 79.7Z" fill="#00f"/>
<path d="M115.2 74.8L121.7 74.8L118.4 80.4Z" fill="#00f"/>
<path d="M118.4 74.9L124.9 74.9L121.7 80.6Z" fill="#00f"/>
<path d="M121.7 74.5L128.2 74.5L125.0 80.1Z" fill="#00f"/>
<path d="M125.0 72.1L131.5 72.1L128.2 77.7Z" fill="#00f"/>
<path d="M128.3 77.1L134.8 77.1L131.5 82.7Z" fill="#00f"/>
<path d="M131.5 86.0L138.0 86.0L134.8 91.6Z" fill="#00f"/>
<path d="M134.8 92.8L141.3 92.8L138.1 98.4Z" fill="#00f"/>
<path d="M138.1 96.5L144.6 96.5L141.3 102.1Z" fill="#00f"/>
<path d="M141.4 101.4L147.9 101.4L144.6 107.0Z" fill="#00f"/>
<path d="M144.7 107.2L151.2 107.2L147.9 112.8Z" fill="#00f"/>
<path d="M147.9 110.9L154.4 110.9L151.2 116.5Z" fill="#00f"/>
<path d="M151.2 115.1L157.7 115.1L154.5 120.7Z" fill="#00f"/>
<path d="M154.5 125.5L161.0 125.5L157.7 131.1Z" fill="#00f"/>
<path d="M157.8 133.8L164.3 133.8L161.0 139.5Z" fill="#00f"/>
<path d="M161.0 140.0L167.5 140.0L164.3 145.6Z" fill="#00f"/>
<path d="M164.3 143.6L170.8 143.6L167.6 149.2Z" fill="#00f"/>
<path d="M167.6 150.6L174.1 150.6L170.8 156.2Z" fill="#00f"/>
<path d="M170.9 162.9L177.4 162.9L174.1 168.6Z" fill="#00f"/>
<path d="M174.1 174.0L180.6 174.0L177.4 179.6Z" fill="#00f"/>
<path d="M177.4 181.3L183.9 181.3L180.7 186.9Z" fill="#00f"/>
<path d="M180.7 188.4L187.2 188.4L183.9 194.0Z" fill="#00f"/>
<path d="M184.0 195.1L190.5 195.1L187.2 200.7Z" fill="#00f"/>
<path d="M187.3 207.3L193.8 207.3L190.5 212.9Z" fill="#00f"/>
<path d="M190.5 218.7L197.0 218.7L193.8 224.4Z" fill="#00f"/>
<path d="M193.8 227.0L200.3 227.0L197.1 232.6Z" fill="#00f"/>
<path d="M197.1 234.7L203.6 234.7L200.3 240.3Z" fill="#00f"/>
<path d="M200.4 242.9L206.9 242.9L203.6 248.5Z" fill="#00f"/>
<path d="M203.6 253.3L210.1 253.3L206.9 258.9Z" fill="#00f"/>
<path d="M206.9 265.5L213.4 265.5L210.2 271.2Z" fill="#00f"/>
<path d="M210.2 273.3L216.7 273.3L213.4 279.0Z" fill="#00f"/>
<path d="M213.5 280.7L220.0 280.7L216.7 286.3Z" fill="#00f"/>
<path d="M216.7 289.5L223.2 289.5L220.0 295.2Z" fill="#00f"/>
<path d="M220.0 297.8L226.5 297.8L223.3 303.4Z" fill="#00f"/>
<path d="M223.3 306.0L229.8 306.0L226.6 311.7Z" fill="#00f"/>
<path d="M226.6 310.3L233.1 310.3L229.8 315.9Z" fill="#00f"/>
<path d="M229.9 316.7L236.4 316.7L233.1 322.4Z" fill="#00f"/>
<path d="M233.1 324.8L239.6 324.8L236.4 330.5Z" fill="#00f"/>
<path d="M236.4 332.1L242.9 332.1L239.7 337.8Z" fill="#00f"/>
<path d="M239.7 336.4L246.2 336.4L242.9 342.0Z" fill="#00f"/>
<path d="M243.0 340.3L249.5 340.3L246.2 345.9Z" fill="#00f"/>
<path d="M246.2 345.1L252.7 345.1L249.5 350.8Z" fill="#00f"/>
<path d="M249.5 349.3L256.0 349.3L252.8 355.0Z" fill="#00f"/>
<path d="M252.8 352.8L259.3 352.8L256.0 358.5Z" fill="#00f"/>
<path d="M256.1 357.1L262.6 357.1L259.3 362.7Z" fill="#00f"/>
<path d="M259.3 360.2L265.8 360.2L262.6 365.9Z" fill="#00f"/>
<path d="M262.6 362.8L269.1 362.8L265.9 368.5Z" fill="#00f"/>
<path d="M265.9 365.3L272.4 365.3L269.2 370.9Z" fill="#00f"/>
<path d="M269.2 367.0L275.7 367.0L272.4 372.6Z" fill="#00f"/>
<path d="M272.5 368.4L279.0 368.4L275.7 374.0Z" fill="#00f"/>
<path d="M275.7 369.9L282.2 369.9L279.0 375.5Z" fill="#00f"/>
<path d="M279.0 371.0L285.5 371.0L282.3 376.6Z" fill="#00f"/>
<path d="M282.3 371.8L288.8 371.8L285.5 377.4Z" fill="#00f"/>
<path d="M285.6 372.4L292.1 372.4L288.8 378.0Z" fill="#00f"/>
<path d="M288.8 373.4L295.3 373.4L292.1 379.0Z" fill="#00f"/>
<path d="M292.1 374.5L298.6 374.5L295.4 380.1Z" fill="#00f"/>
<path d="M295.4 375.6L301.9 375.6L298.6 381.2Z" fill="#00f"/>
<path d="M298.7 377.4L305.2 377.4L301.9 383.1Z" fill="#00f"/>
<path d="M301.9 378.6L308.4 378.6L305.2 384.2Z" fill="#00f"/>
<path d="M305.2 377.7L311.7 377.7L308.5 383.3Z" fill="#00f"/>
<path d="M308.5 376.9L315.0 376.9L311.8 382.6Z" fill="#00f"/>
<path d="M311.8 379.5L318.3 379.5L315.0 385.1Z" fill="#00f"/>
<path d="M315.1 378.0L321.6 378.0L318.3 383.6Z" fill="#00f"/>
<path d="M318.3 379.5L324.8 379.5L321.6 385.2Z" fill="#00f"/>
<path d="M321.6 379.5L328.1 379.5L324.9 385.1Z" fill="#00f"/>
<path d="M324.9 378.0L331.4 378.0L328.1 383.7Z" fill="#00f"/>
<path d="M328.2 379.9L334.7 379.9L331.4 385.6Z" fill="#00f"/>
<path d="M331.4 380.1L337.9 380.1L334.7 385.7Z" fill="#00f"/>
<path d="M334.7 379.4L341.2 379.4L338.0 385.1Z" fill="#00f"/>
<path d="M338.0 379.7L344.5 379.7L341.2 385.3Z" fill="#00f"/>
<path d="M341.3 379.9L347.8 379.9L344.5 385.5Z" fill="#00f"/>
<path d="M344.5 378.3L351.0 378.3L347.8 383.9Z" fill="#00f"/>
<path d="M347.8 379.2L354.3 379.2L351.1 384.8Z" fill="#00f"/>
<path d="M351.1 379.1L357.6 379.1L354.4 384.8Z" fill="#00f"/>
<path d="M354.4 379.9L360.9 379.9L357.6 385.6Z" fill="#00f"/>
<path d="M357.7 379.9L364.2 379.9L360.9 385.5Z" fill="#00f"/>
<path d="M360.9 379.9L367.4 379.9L364.2 385.5Z" fill="#00f"/>
<path d="M364.2 379.3L370.7 379.3L367.5 385.0Z" fill="#00f"/>
<path d="M367.5 380.1L374.0 380.1L370.7 385.7Z" fill="#00f"/>
<path d="M370.8 379.6L377.3 379.6L374.0 385.2Z" fill="#00f"/>
<path d="M374.0 379.6L380.5 379.6L377.3 385.2Z" fill="#00f"/>
<path d="M377.3 378.5L383.8 378.5L380.6 384.1Z" fill="#00f"/>
<path d="M380.6 378.0L387.1 378.0L383.8 383.6Z" fill="#00f"/>
<path d="M383.9 378.2L390.4 378.2L387.1 383.9Z" fill="#00f"/>
<path d="M387.1 378.8L393.6 378.8L390.4 384.4Z" fill="#00f"/>
<path d="M390.4 378.2L396.9 378.2L393.7 383.8Z" fill="#00f"/>
<path d="M393.7 379.9L400.2 379.9L397.0 385.6Z" fill="#00f"/>
<path d="M397.0 379.3L403.5 379.3L400.2 384.9Z" fill="#00f"/>
<path d="M400.3 379.4L406.8 379.4L403.5 385.1Z" fill="#00f"/>
<path d="M403.5 379.4L410.0 379.4L406.8 385.1Z" fill="#00f"/>
<path d="M406.8 379.6L413.3 379.6L410.1 385.2Z" fill="#00f"/>
<path d="M410.1 379.1L416.6 379.1L413.3 384.7Z" fill="#00f"/>
<path d="M413.4 377.9L419.9 377.9L416.6 383.6Z" fill="#00f"/>
<path d="M416.6 379.8L423.1 379.8L419.9 385.5Z" fill="#00f"/>
<path d="M419.9 379.7L426.4 379.7L423.2 385.3Z" fill="#00f"/>
<path d="M423.2 379.1L429.7 379.1L426.4 384.8Z" fill="#00f"/>
<path d="M426.5 379.2L433.0 379.2L429.7 384.8Z" fill="#00f"/>
<path d="M429.8 379.5L436.3 379.5L433.0 385.1Z" fill="#00f"/>
<path d="M433.0 378.1L439.5 378.1L436.3 383.7Z" fill="#00f"/>
<path d="M436.3 379.7L442.8 379.7L439.6 385.3Z" fill="#00f"/>
<path d="M439.6 378.5L446.1 378.5L442.8 384.2Z" fill="#00f"/>
<path d="M442.9 378.1L449.4 378.1L446.1 383.7Z" fill="#00f"/>
<path d="M446.1 378.6L452.6 378.6L449.4 384.2Z" fill="#00f"/>
<path d="M449.4 379.7L455.9 379.7L452.7 385.3Z" fill="#00f"/>
<path d="M452.7 378.4L459.2 378.4L455.9 384.0Z" fill="#00f"/>
<path d="M456.0 379.7L462.5 379.7L459.2 385.3Z" fill="#00f"/>
<path d="M459.2 380.3L465.7 380.3L462.5 385.9Z" fill="#00f"/>
<path d="M462.5 379.1L469.0 379.1L465.8 384.7Z" fill="#00f"/>
<path d="M465.8 378.8L472.3 378.8L469.0 384.5Z" fill="#00f"/>
<path d="M469.1 379.1L475.6 379.1L472.3 384.7Z" fill="#00f"/>
<path d="M472.4 379.6L478.9 379.6L475.6 385.2Z" fill="#00f"/>
<path d="M475.6 379.8L482.1 379.8L478.9 385.4Z" fill="#00f"/>
<path d="M478.9 379.4L485.4 379.4L482.2 385.0Z" fill="#00f"/>
<path d="M482.2 379.5L488.7 379.5L485.4 385.1Z" fill="#00f"/>
<path d="M485.5 378.1L492.0 378.1L488.7 383.7Z" fill="#00f"/>
<path d="M488.7 378.3L495.2 378.3L492.0 383.9Z" fill="#00f"/>
<path d="M492.0 378.5L498.5 378.5L495.3 384.2Z" fill="#00f"/>
<path d="M495.3 379.7L501.8 379.7L498.5 385.3Z" fill="#00f"/>
<path d="M498.6 378.7L505.1 378.7L501.8 384.3Z" fill="#00f"/>
<path d="M501.8 379.3L508.3 379.3L505.1 384.9Z" fill="#00f"/>
<path d="M505.1 378.0L511.6 378.0L508.4 383.6Z" fill="#00f"/>
<path d="M508.4 378.1L514.9 378.1L511.6 383.7Z" fill="#00f"/>
<path d="M511.7 378.6L518.2 378.6L514.9 384.2Z" fill="#00f"/>
<path d="M515.0 379.5L521.5 379.5L518.2 385.2Z" fill="#00f"/>
<path d="M518.2 379.6L524.7 379.6L521.5 385.2Z" fill="#00f"/>
<path d="M521.5 379.5L528.0 379.5L524.8 385.2Z" fill="#00f"/>
<path d="M524.8 378.6L531.3 378.6L528.0 384.3Z" fill="#00f"/>
<path d="M528.1 379.2L534.6 379.2L531.3 384.8Z" fill="#00f"/>
<path d="M531.3 379.0L537.8 379.0L534.6 384.7Z" fill="#00f"/>
<path d="M534.6 379.0L541.1 379.0L537.9 384.7Z" fill="#00f"/>
<path d="M537.9 378.2L544.4 378.2L541.1 383.8Z" fill="#00f"/>
<path d="M541.2 380.1L547.7 380.1L544.4 385.7Z" fill="#00f"/>
<path d="M544.4 378.4L550.9 378.4L547.7 384.0Z" fill="#00f"/>
<path d="M547.7 380.3L554.2 380.3L551.0 385.9Z" fill="#00f"/>
<path d="M551.0 380.2L557.5 380.2L554.2 385.8Z" fill="#00f"/>
<path d="M554.3 378.0L560.8 378.0L557.5 383.6Z" fill="#00f"/>
<path d="M557.6 379.0L564.1 379.0L560.8 384.7Z" fill="#00f"/>
<path d="M560.8 379.9L567.3 379.9L564.1 385.5Z" fill="#00f"/>
<path d="M564.1 380.2L570.6 380.2L567.4 385.9Z" fill="#00f"/>
<path d="M567.4 379.0L573.9 379.0L570.6 384.6Z" fill="#00f"/>
<path d="M570.7 378.6L577.2 378.6L573.9 384.2Z" fill="#00f"/>
<path d="M573.9 378.4L580.4 378.4L577.2 384.1Z" fill="#00f"/>
<path d="M577.2 380.2L583.7 380.2L580.5 385.8Z" fill="#00f"/>
<path d="M580.5 378.4L587.0 378.4L583.7 384.1Z" fill="#00f"/>
<path d="M583.8 379.3L590.3 379.3L587.0 384.9Z" fill="#00f"/>
</g>
<g clip-path="url(#cb)">
<polyline points="96.5,841.2 99.0,841.9 101.5,843.3 104.0,843.2 106.5,844.4 109.0,844.4 111.6,845.0 114.1,844.9 116.6,844.4 119.1,845.2 121.6,844.7 124.1,844.1 126.6,844.0 129.1,844.5 131.6,844.4 134.2,844.1 136.7,843.7 139.2,843.9 141.7,843.9 144.2,844.6 146.7,843.7 149.2,844.8 151.7,844.9 154.2,844.0 156.7,845.0 159.2,844.8 161.8,844.9 164.3,844.0 166.8,844.0 169.3,843.9 171.8,844.4 174.3,843.7 177.6,841.0 179.7,840.3 182.1,837.5 184.2,833.6 186.7,826.6 189.4,815.1 191.9,801.1 194.4,791.6 196.9,791.6 199.4,802.1 201.9,820.3 204.4,834.5 206.9,840.0 209.4,841.6 212.0,843.4 214.5,844.0 217.0,844.4 219.5,845.4 222.0,846.7 224.5,847.8 227.0,848.9 229.5,848.8 232.0,849.7 234.5,849.2 237.1,849.5 239.6,849.2 242.1,848.1 244.6,847.1 247.1,847.4 249.6,845.7 252.1,845.8 254.6,845.3 257.1,845.0 259.6,845.3 262.2,845.7 264.7,844.9 267.2,845.5 269.7,845.2 272.2,845.7 274.7,845.6 277.2,845.5 279.7,845.6 282.2,845.3 284.8,845.8 287.3,844.9 289.8,844.2 292.3,845.3 294.8,845.8 297.3,845.5 299.8,845.5 302.3,845.7 304.8,845.8 307.3,846.2 309.9,846.0 312.4,846.1 314.9,846.0 317.4,846.2 319.9,846.5 322.4,846.3 324.9,845.9 327.4,845.9 329.9,846.0 332.4,845.5 334.9,845.1" fill="none" stroke="#000" stroke-width="1.8" />
<rect x="93.4" y="838.1" width="6.2" height="6.2" fill="#000"/>
<rect x="95.9" y="838.8" width="6.2" height="6.2" fill="#000"/>
<rect x="98.4" y="840.2" width="6.2" height="6.2" fill="#000"/>
<rect x="100.9" y="840.1" width="6.2" height="6.2" fill="#000"/>
<rect x="103.4" y="841.3" width="6.2" height="6.2" fill="#000"/>
<rect x="106.0" y="841.3" width="6.2" height="6.2" fill="#000"/>
<rect x="108.5" y="841.9" width="6.2" height="6.2" fill="#000"/>
<rect x="111.0" y="841.8" width="6.2" height="6.2" fill="#000"/>
<rect x="113.5" y="841.3" width="6.2" height="6.2" fill="#000"/>
<rect x="116.0" y="842.1" width="6.2" height="6.2" fill="#000"/>
<rect x="118.5" y="841.6" width="6.2" height="6.2" fill="#000"/>
<rect x="121.0" y="841.0" width="6.2" height="6.2" fill="#000"/>
<rect x="123.5" y="840.9" width="6.2" height="6.2" fill="#000"/>
<rect x="126.0" y="841.4" width="6.2" height="6.2" fill="#000"/>
<rect x="128.5" y="841.3" width="6.2" height="6.2" fill="#000"/>
<rect x="131.1" y="841.0" width="6.2" height="6.2" fill="#000"/>
<rect x="133.6" y="840.6" width="6.2" height="6.2" fill="#000"/>
<rect x="136.1" y="840.8" width="6.2" height="6.2" fill="#000"/>
<rect x="138.6" y="840.8" width="6.2" height="6.2" fill="#000"/>
<rect x="141.1" y="841.5" width="6.2" height="6.2" fill="#000"/>
<rect x="143.6" y="840.6" width="6.2" height="6.2" fill="#000"/>
<rect x="146.1" y="841.7" width="6.2" height="6.2" fill="#000"/>
<rect x="148.6" y="841.8" width="6.2" height="6.2" fill="#000"/>
<rect x="151.1" y="840.9" width="6.2" height="6.2" fill="#000"/>
<rect x="153.6" y="841.9" width="6.2" height="6.2" fill="#000"/>
<rect x="156.2" y="841.7" width="6.2" height="6.2" fill="#000"/>
<rect x="158.7" y="841.8" width="6.2" height="6.2" fill="#000"/>
<rect x="161.2" y="840.9" width="6.2" height="6.2" fill="#000"/>
<rect x="163.7" y="840.9" width="6.2" height="6.2" fill="#000"/>
<rect x="166.2" y="840.8" width="6.2" height="6.2" fill="#000"/>
<rect x="168.7" y="841.3" width="6.2" height="6.2" fill="#000"/>
<rect x="171.2" y="840.6" width="6.2" height="6.2" fill="#000"/>
<rect x="174.5" y="837.9" width="6.2" height="6.2" fill="#000"/>
<rect x="176.6" y="837.2" width="6.2" height="6.2" fill="#000"/>
<rect x="179.0" y="834.4" width="6.2" height="6.2" fill="#000"/>
<rect x="181.1" y="830.5" width="6.2" height="6.2" fill="#000"/>
<rect x="183.6" y="823.5" width="6.2" height="6.2" fill="#000"/>
<rect x="186.3" y="812.0" width="6.2" height="6.2" fill="#000"/>
<rect x="188.8" y="798.0" width="6.2" height="6.2" fill="#000"/>
<rect x="191.3" y="788.5" width="6.2" height="6.2" fill="#000"/>
<rect x="193.8" y="788.5" width="6.2" height="6.2" fill="#000"/>
<rect x="196.3" y="799.0" width="6.2" height="6.2" fill="#000"/>
<rect x="198.8" y="817.2" width="6.2" height="6.2" fill="#000"/>
<rect x="201.3" y="831.4" width="6.2" height="6.2" fill="#000"/>
<rect x="203.8" y="836.9" width="6.2" height="6.2" fill="#000"/>
<rect x="206.3" y="838.5" width="6.2" height="6.2" fill="#000"/>
<rect x="208.9" y="840.3" width="6.2" height="6.2" fill="#000"/>
<rect x="211.4" y="840.9" width="6.2" height="6.2" fill="#000"/>
<rect x="213.9" y="841.3" width="6.2" height="6.2" fill="#000"/>
<rect x="216.4" y="842.3" width="6.2" height="6.2" fill="#000"/>
<rect x="218.9" y="843.6" width="6.2" height="6.2" fill="#000"/>
<rect x="221.4" y="844.7" width="6.2" height="6.2" fill="#000"/>
<rect x="223.9" y="845.8" width="6.2" height="6.2" fill="#000"/>
<rect x="226.4" y="845.7" width="6.2" height="6.2" fill="#000"/>
<rect x="228.9" y="846.6" width="6.2" height="6.2" fill="#000"/>
<rect x="231.4" y="846.1" width="6.2" height="6.2" fill="#000"/>
<rect x="234.0" y="846.4" width="6.2" height="6.2" fill="#000"/>
<rect x="236.5" y="846.1" width="6.2" height="6.2" fill="#000"/>
<rect x="239.0" y="845.0" width="6.2" height="6.2" fill="#000"/>
<rect x="241.5" y="844.0" width="6.2" height="6.2" fill="#000"/>
<rect x="244.0" y="844.3" width="6.2" height="6.2" fill="#000"/>
<rect x="246.5" y="842.6" width="6.2" height="6.2" fill="#000"/>
<rect x="249.0" y="842.7" width="6.2" height="6.2" fill="#000"/>
<rect x="251.5" y="842.2" width="6.2" height="6.2" fill="#000"/>
<rect x="254.0" y="841.9" width="6.2" height="6.2" fill="#000"/>
<rect x="256.5" y="842.2" width="6.2" height="6.2" fill="#000"/>
<rect x="259.1" y="842.6" width="6.2" height="6.2" fill="#000"/>
<rect x="261.6" y="841.8" width="6.2" height="6.2" fill="#000"/>
<rect x="264.1" y="842.4" width="6.2" height="6.2" fill="#000"/>
<rect x="266.6" y="842.1" width="6.2" height="6.2" fill="#000"/>
<rect x="269.1" y="842.6" width="6.2" height="6.2" fill="#000"/>
<rect x="271.6" y="842.5" width="6.2" height="6.2" fill="#000"/>
<rect x="274.1" y="842.4" width="6.2" height="6.2" fill="#000"/>
<rect x="276.6" y="842.5" width="6.2" height="6.2" fill="#000"/>
<rect x="279.1" y="842.2" width="6.2" height="6.2" fill="#000"/>
<rect x="281.6" y="842.7" width="6.2" height="6.2" fill="#000"/>
<rect x="284.2" y="841.8" width="6.2" height="6.2" fill="#000"/>
<rect x="286.7" y="841.1" width="6.2" height="6.2" fill="#000"/>
<rect x="289.2" y="842.2" width="6.2" height="6.2" fill="#000"/>
<rect x="291.7" y="842.7" width="6.2" height="6.2" fill="#000"/>
<rect x="294.2" y="842.4" width="6.2" height="6.2" fill="#000"/>
<rect x="296.7" y="842.4" width="6.2" height="6.2" fill="#000"/>
<rect x="299.2" y="842.6" width="6.2" height="6.2" fill="#000"/>
<rect x="301.7" y="842.7" width="6.2" height="6.2" fill="#000"/>
<rect x="304.2" y="843.1" width="6.2" height="6.2" fill="#000"/>
<rect x="306.8" y="842.9" width="6.2" height="6.2" fill="#000"/>
<rect x="309.3" y="843.0" width="6.2" height="6.2" fill="#000"/>
<rect x="311.8" y="842.9" width="6.2" height="6.2" fill="#000"/>
<rect x="314.3" y="843.1" width="6.2" height="6.2" fill="#000"/>
<rect x="316.8" y="843.4" width="6.2" height="6.2" fill="#000"/>
<rect x="319.3" y="843.2" width="6.2" height="6.2" fill="#000"/>
<rect x="321.8" y="842.8" width="6.2" height="6.2" fill="#000"/>
<rect x="324.3" y="842.8" width="6.2" height="6.2" fill="#000"/>
<rect x="326.8" y="842.9" width="6.2" height="6.2" fill="#000"/>
<rect x="329.3" y="842.4" width="6.2" height="6.2" fill="#000"/>
<rect x="331.8" y="842.0" width="6.2" height="6.2" fill="#000"/>
<polyline points="345.4,839.7 348.7,839.9 352.0,841.8 355.2,851.8 358.5,854.0 361.7,850.4 365.0,844.2 368.2,840.5 371.5,844.2 374.8,848.4 378.0,850.5 381.3,850.0 384.5,849.7 387.8,848.7 391.1,843.8 394.3,837.5 397.6,838.0 400.8,845.7 404.1,851.3 407.3,852.9 410.6,853.1 413.9,851.9 417.1,851.2 420.4,851.3 423.6,851.5 426.9,849.6 430.1,844.5 433.4,836.3 436.4,813.7 439.9,728.6 443.3,616.9 446.5,555.1 449.8,531.2 453.6,523.7 456.4,541.6 460.0,604.4 463.2,695.4 466.4,775.5 470.0,822.0 472.5,833.7 475.8,832.7 479.0,833.2 482.3,834.5 485.5,838.1 488.8,840.5 492.1,842.1 495.3,844.5 498.6,847.2 501.8,846.8 505.1,846.1 508.3,845.8 511.6,845.1 514.9,843.3 518.1,843.5 521.4,844.7 524.6,845.4 527.9,845.8 531.1,843.5 534.4,841.5 537.7,841.2 540.9,841.8 544.2,843.3 547.4,845.7 550.7,848.3 554.0,850.6 557.2,851.3 560.5,851.5 563.7,851.7 567.0,852.3 570.2,851.8 573.5,851.2 576.8,850.7 580.0,850.5 583.3,850.3 586.5,849.8" fill="none" stroke="#000" stroke-width="1.8" />
<rect x="342.3" y="836.6" width="6.2" height="6.2" fill="#000"/>
<rect x="345.6" y="836.8" width="6.2" height="6.2" fill="#000"/>
<rect x="348.9" y="838.7" width="6.2" height="6.2" fill="#000"/>
<rect x="352.1" y="848.7" width="6.2" height="6.2" fill="#000"/>
<rect x="355.4" y="850.9" width="6.2" height="6.2" fill="#000"/>
<rect x="358.6" y="847.3" width="6.2" height="6.2" fill="#000"/>
<rect x="361.9" y="841.1" width="6.2" height="6.2" fill="#000"/>
<rect x="365.1" y="837.4" width="6.2" height="6.2" fill="#000"/>
<rect x="368.4" y="841.1" width="6.2" height="6.2" fill="#000"/>
<rect x="371.7" y="845.3" width="6.2" height="6.2" fill="#000"/>
<rect x="374.9" y="847.4" width="6.2" height="6.2" fill="#000"/>
<rect x="378.2" y="846.9" width="6.2" height="6.2" fill="#000"/>
<rect x="381.4" y="846.6" width="6.2" height="6.2" fill="#000"/>
<rect x="384.7" y="845.6" width="6.2" height="6.2" fill="#000"/>
<rect x="388.0" y="840.7" width="6.2" height="6.2" fill="#000"/>
<rect x="391.2" y="834.4" width="6.2" height="6.2" fill="#000"/>
<rect x="394.5" y="834.9" width="6.2" height="6.2" fill="#000"/>
<rect x="397.7" y="842.6" width="6.2" height="6.2" fill="#000"/>
<rect x="401.0" y="848.2" width="6.2" height="6.2" fill="#000"/>
<rect x="404.2" y="849.8" width="6.2" height="6.2" fill="#000"/>
<rect x="407.5" y="850.0" width="6.2" height="6.2" fill="#000"/>
<rect x="410.8" y="848.8" width="6.2" height="6.2" fill="#000"/>
<rect x="414.0" y="848.1" width="6.2" height="6.2" fill="#000"/>
<rect x="417.3" y="848.2" width="6.2" height="6.2" fill="#000"/>
<rect x="420.5" y="848.4" width="6.2" height="6.2" fill="#000"/>
<rect x="423.8" y="846.5" width="6.2" height="6.2" fill="#000"/>
<rect x="427.0" y="841.4" width="6.2" height="6.2" fill="#000"/>
<rect x="430.3" y="833.2" width="6.2" height="6.2" fill="#000"/>
<rect x="433.3" y="810.6" width="6.2" height="6.2" fill="#000"/>
<rect x="436.8" y="725.5" width="6.2" height="6.2" fill="#000"/>
<rect x="440.2" y="613.8" width="6.2" height="6.2" fill="#000"/>
<rect x="443.4" y="552.0" width="6.2" height="6.2" fill="#000"/>
<rect x="446.7" y="528.1" width="6.2" height="6.2" fill="#000"/>
<rect x="450.5" y="520.6" width="6.2" height="6.2" fill="#000"/>
<rect x="453.3" y="538.5" width="6.2" height="6.2" fill="#000"/>
<rect x="456.9" y="601.3" width="6.2" height="6.2" fill="#000"/>
<rect x="460.1" y="692.3" width="6.2" height="6.2" fill="#000"/>
<rect x="463.3" y="772.4" width="6.2" height="6.2" fill="#000"/>
<rect x="466.9" y="818.9" width="6.2" height="6.2" fill="#000"/>
<rect x="469.4" y="830.6" width="6.2" height="6.2" fill="#000"/>
<rect x="472.7" y="829.6" width="6.2" height="6.2" fill="#000"/>
<rect x="475.9" y="830.1" width="6.2" height="6.2" fill="#000"/>
<rect x="479.2" y="831.4" width="6.2" height="6.2" fill="#000"/>
<rect x="482.4" y="835.0" width="6.2" height="6.2" fill="#000"/>
<rect x="485.7" y="837.4" width="6.2" height="6.2" fill="#000"/>
<rect x="488.9" y="839.0" width="6.2" height="6.2" fill="#000"/>
<rect x="492.2" y="841.4" width="6.2" height="6.2" fill="#000"/>
<rect x="495.5" y="844.1" width="6.2" height="6.2" fill="#000"/>
<rect x="498.7" y="843.7" width="6.2" height="6.2" fill="#000"/>
<rect x="502.0" y="843.0" width="6.2" height="6.2" fill="#000"/>
<rect x="505.2" y="842.7" width="6.2" height="6.2" fill="#000"/>
<rect x="508.5" y="842.0" width="6.2" height="6.2" fill="#000"/>
<rect x="511.8" y="840.2" width="6.2" height="6.2" fill="#000"/>
<rect x="515.0" y="840.4" width="6.2" height="6.2" fill="#000"/>
<rect x="518.3" y="841.6" width="6.2" height="6.2" fill="#000"/>
<rect x="521.5" y="842.3" width="6.2" height="6.2" fill="#000"/>
<rect x="524.8" y="842.7" width="6.2" height="6.2" fill="#000"/>
<rect x="528.0" y="840.4" width="6.2" height="6.2" fill="#000"/>
<rect x="531.3" y="838.4" width="6.2" height="6.2" fill="#000"/>
<rect x="534.6" y="838.1" width="6.2" height="6.2" fill="#000"/>
<rect x="537.8" y="838.7" width="6.2" height="6.2" fill="#000"/>
<rect x="541.1" y="840.2" width="6.2" height="6.2" fill="#000"/>
<rect x="544.3" y="842.6" width="6.2" height="6.2" fill="#000"/>
<rect x="547.6" y="845.2" width="6.2" height="6.2" fill="#000"/>
<rect x="550.9" y="847.5" width="6.2" height="6.2" fill="#000"/>
<rect x="554.1" y="848.2" width="6.2" height="6.2" fill="#000"/>
<rect x="557.4" y="848.4" width="6.2" height="6.2" fill="#000"/>
<rect x="560.6" y="848.6" width="6.2" height="6.2" fill="#000"/>
<rect x="563.9" y="849.2" width="6.2" height="6.2" fill="#000"/>
<rect x="567.1" y="848.7" width="6.2" height="6.2" fill="#000"/>
<rect x="570.4" y="848.1" width="6.2" height="6.2" fill="#000"/>
<rect x="573.7" y="847.6" width="6.2" height="6.2" fill="#000"/>
<rect x="576.9" y="847.4" width="6.2" height="6.2" fill="#000"/>
<rect x="580.2" y="847.2" width="6.2" height="6.2" fill="#000"/>
<rect x="583.4" y="846.7" width="6.2" height="6.2" fill="#000"/>
<polyline points="96.5,845.5 99.0,847.9 101.5,849.1 104.0,848.3 106.5,846.2 109.0,846.4 111.6,846.0 114.1,845.7 116.6,845.8 119.1,847.6 121.6,846.9 124.1,847.9 126.6,847.2 129.1,847.5 131.6,848.3 134.2,847.5 136.7,848.4 139.2,847.5 141.7,847.0 144.2,847.1 146.7,847.4 149.2,847.8 151.7,848.1 154.2,846.7 156.7,847.0 159.2,846.6 161.8,847.8 164.3,846.4 166.8,846.3 169.3,846.3 171.8,846.7 174.3,847.4 176.8,847.3 179.3,846.9 181.8,847.2 184.3,847.0 186.9,845.9 189.4,845.5 191.9,846.6 194.4,846.2 196.9,844.9 199.4,845.8 201.9,845.2 204.4,845.1 206.9,844.9 209.4,844.5 212.0,844.4 214.5,845.1 217.0,845.5 219.5,846.7 222.0,845.7 224.5,847.4 227.0,846.6 229.5,847.2 232.0,847.9 234.5,847.8 237.1,847.0 239.6,846.3 242.1,846.9 244.6,846.6 247.1,847.3 249.6,846.0 252.1,846.2 254.6,846.9 257.1,845.4 259.6,845.9 262.2,846.4 264.7,846.2 267.2,844.9 269.7,844.8 272.2,844.4 274.7,845.2 277.2,844.8 279.7,846.3 282.2,846.9 284.8,846.2 287.3,846.4 289.8,847.7 292.3,847.1 294.8,846.4 297.3,847.0 299.8,846.2 302.3,845.9 304.8,845.2 307.3,846.2 309.9,846.2 312.4,846.0 314.9,846.7 317.4,845.5 319.9,846.1 322.4,846.9 324.9,848.2 327.4,847.7 329.9,846.3 332.4,845.6 334.9,845.3" fill="none" stroke="#f00" stroke-width="1.6" />
<circle cx="96.5" cy="845.5" r="3.6" fill="#f00"/>
<circle cx="99.0" cy="847.9" r="3.6" fill="#f00"/>
<circle cx="101.5" cy="849.1" r="3.6" fill="#f00"/>
<circle cx="104.0" cy="848.3" r="3.6" fill="#f00"/>
<circle cx="106.5" cy="846.2" r="3.6" fill="#f00"/>
<circle cx="109.0" cy="846.4" r="3.6" fill="#f00"/>
<circle cx="111.6" cy="846.0" r="3.6" fill="#f00"/>
<circle cx="114.1" cy="845.7" r="3.6" fill="#f00"/>
<circle cx="116.6" cy="845.8" r="3.6" fill="#f00"/>
<circle cx="119.1" cy="847.6" r="3.6" fill="#f00"/>
<circle cx="121.6" cy="846.9" r="3.6" fill="#f00"/>
<circle cx="124.1" cy="847.9" r="3.6" fill="#f00"/>
<circle cx="126.6" cy="847.2" r="3.6" fill="#f00"/>
<circle cx="129.1" cy="847.5" r="3.6" fill="#f00"/>
<circle cx="131.6" cy="848.3" r="3.6" fill="#f00"/>
<circle cx="134.2" cy="847.5" r="3.6" fill="#f00"/>
<circle cx="136.7" cy="848.4" r="3.6" fill="#f00"/>
<circle cx="139.2" cy="847.5" r="3.6" fill="#f00"/>
<circle cx="141.7" cy="847.0" r="3.6" fill="#f00"/>
<circle cx="144.2" cy="847.1" r="3.6" fill="#f00"/>
<circle cx="146.7" cy="847.4" r="3.6" fill="#f00"/>
<circle cx="149.2" cy="847.8" r="3.6" fill="#f00"/>
<circle cx="151.7" cy="848.1" r="3.6" fill="#f00"/>
<circle cx="154.2" cy="846.7" r="3.6" fill="#f00"/>
<circle cx="156.7" cy="847.0" r="3.6" fill="#f00"/>
<circle cx="159.2" cy="846.6" r="3.6" fill="#f00"/>
<circle cx="161.8" cy="847.8" r="3.6" fill="#f00"/>
<circle cx="164.3" cy="846.4" r="3.6" fill="#f00"/>
<circle cx="166.8" cy="846.3" r="3.6" fill="#f00"/>
<circle cx="169.3" cy="846.3" r="3.6" fill="#f00"/>
<circle cx="171.8" cy="846.7" r="3.6" fill="#f00"/>
<circle cx="174.3" cy="847.4" r="3.6" fill="#f00"/>
<circle cx="176.8" cy="847.3" r="3.6" fill="#f00"/>
<circle cx="179.3" cy="846.9" r="3.6" fill="#f00"/>
<circle cx="181.8" cy="847.2" r="3.6" fill="#f00"/>
<circle cx="184.3" cy="847.0" r="3.6" fill="#f00"/>
<circle cx="186.9" cy="845.9" r="3.6" fill="#f00"/>
<circle cx="189.4" cy="845.5" r="3.6" fill="#f00"/>
<circle cx="191.9" cy="846.6" r="3.6" fill="#f00"/>
<circle cx="194.4" cy="846.2" r="3.6" fill="#f00"/>
<circle cx="196.9" cy="844.9" r="3.6" fill="#f00"/>
<circle cx="199.4" cy="845.8" r="3.6" fill="#f00"/>
<circle cx="201.9" cy="845.2" r="3.6" fill="#f00"/>
<circle cx="204.4" cy="845.1" r="3.6" fill="#f00"/>
<circle cx="206.9" cy="844.9" r="3.6" fill="#f00"/>
<circle cx="209.4" cy="844.5" r="3.6" fill="#f00"/>
<circle cx="212.0" cy="844.4" r="3.6" fill="#f00"/>
<circle cx="214.5" cy="845.1" r="3.6" fill="#f00"/>
<circle cx="217.0" cy="845.5" r="3.6" fill="#f00"/>
<circle cx="219.5" cy="846.7" r="3.6" fill="#f00"/>
<circle cx="222.0" cy="845.7" r="3.6" fill="#f00"/>
<circle cx="224.5" cy="847.4" r="3.6" fill="#f00"/>
<circle cx="227.0" cy="846.6" r="3.6" fill="#f00"/>
<circle cx="229.5" cy="847.2" r="3.6" fill="#f00"/>
<circle cx="232.0" cy="847.9" r="3.6" fill="#f00"/>
<circle cx="234.5" cy="847.8" r="3.6" fill="#f00"/>
<circle cx="237.1" cy="847.0" r="3.6" fill="#f00"/>
<circle cx="239.6" cy="846.3" r="3.6" fill="#f00"/>
<circle cx="242.1" cy="846.9" r="3.6" fill="#f00"/>
<circle cx="244.6" cy="846.6" r="3.6" fill="#f00"/>
<circle cx="247.1" cy="847.3" r="3.6" fill="#f00"/>
<circle cx="249.6" cy="846.0" r="3.6" fill="#f00"/>
<circle cx="252.1" cy="846.2" r="3.6" fill="#f00"/>
<circle cx="254.6" cy="846.9" r="3.6" fill="#f00"/>
<circle cx="257.1" cy="845.4" r="3.6" fill="#f00"/>
<circle cx="259.6" cy="845.9" r="3.6" fill="#f00"/>
<circle cx="262.2" cy="846.4" r="3.6" fill="#f00"/>
<circle cx="264.7" cy="846.2" r="3.6" fill="#f00"/>
<circle cx="267.2" cy="844.9" r="3.6" fill="#f00"/>
<circle cx="269.7" cy="844.8" r="3.6" fill="#f00"/>
<circle cx="272.2" cy="844.4" r="3.6" fill="#f00"/>
<circle cx="274.7" cy="845.2" r="3.6" fill="#f00"/>
<circle cx="277.2" cy="844.8" r="3.6" fill="#f00"/>
<circle cx="279.7" cy="846.3" r="3.6" fill="#f00"/>
<circle cx="282.2" cy="846.9" r="3.6" fill="#f00"/>
<circle cx="284.8" cy="846.2" r="3.6" fill="#f00"/>
<circle cx="287.3" cy="846.4" r="3.6" fill="#f00"/>
<circle cx="289.8" cy="847.7" r="3.6" fill="#f00"/>
<circle cx="292.3" cy="847.1" r="3.6" fill="#f00"/>
<circle cx="294.8" cy="846.4" r="3.6" fill="#f00"/>
<circle cx="297.3" cy="847.0" r="3.6" fill="#f00"/>
<circle cx="299.8" cy="846.2" r="3.6" fill="#f00"/>
<circle cx="302.3" cy="845.9" r="3.6" fill="#f00"/>
<circle cx="304.8" cy="845.2" r="3.6" fill="#f00"/>
<circle cx="307.3" cy="846.2" r="3.6" fill="#f00"/>
<circle cx="309.9" cy="846.2" r="3.6" fill="#f00"/>
<circle cx="312.4" cy="846.0" r="3.6" fill="#f00"/>
<circle cx="314.9" cy="846.7" r="3.6" fill="#f00"/>
<circle cx="317.4" cy="845.5" r="3.6" fill="#f00"/>
<circle cx="319.9" cy="846.1" r="3.6" fill="#f00"/>
<circle cx="322.4" cy="846.9" r="3.6" fill="#f00"/>
<circle cx="324.9" cy="848.2" r="3.6" fill="#f00"/>
<circle cx="327.4" cy="847.7" r="3.6" fill="#f00"/>
<circle cx="329.9" cy="846.3" r="3.6" fill="#f00"/>
<circle cx="332.4" cy="845.6" r="3.6" fill="#f00"/>
<circle cx="334.9" cy="845.3" r="3.6" fill="#f00"/>
<polyline points="345.4,840.4 348.7,843.8 352.0,847.3 355.2,850.2 358.5,852.4 361.7,854.0 365.0,852.8 368.2,849.8 371.5,847.0 374.8,845.1 378.0,843.9 381.3,842.5 384.5,842.4 387.8,843.3 391.1,844.0 394.3,843.3 397.6,842.8 400.8,840.8 404.1,838.3 407.3,837.8 410.6,841.3 413.9,844.2 417.1,847.9 420.4,849.4 423.6,843.3 426.9,838.4 430.1,839.6 433.4,841.9 436.7,844.3 439.9,845.8 443.2,842.8 446.4,841.3 449.7,841.0 453.0,843.9 456.2,850.1 459.5,842.2 462.7,839.9 466.0,844.4 469.2,842.6 472.5,839.2 475.8,839.4 479.0,843.5 482.3,844.7 485.5,843.1 488.8,846.3 492.1,848.5 495.3,846.3 498.6,840.9 501.8,839.1 505.1,839.8 508.3,837.8 511.6,836.8 514.9,837.6 518.1,840.2 521.4,841.0 524.6,840.0 527.9,838.3 531.1,841.3 534.4,843.1 537.7,844.5 540.9,845.8 544.2,845.1 547.4,841.2 550.7,837.7 554.0,838.9 557.2,842.0 560.5,843.8 563.7,842.4 567.0,840.7 570.2,839.8 573.5,843.6 576.8,845.6 580.0,846.5 583.3,845.4 586.5,843.4" fill="none" stroke="#f00" stroke-width="1.6" />
<circle cx="345.4" cy="840.4" r="3.6" fill="#f00"/>
<circle cx="348.7" cy="843.8" r="3.6" fill="#f00"/>
<circle cx="352.0" cy="847.3" r="3.6" fill="#f00"/>
<circle cx="355.2" cy="850.2" r="3.6" fill="#f00"/>
<circle cx="358.5" cy="852.4" r="3.6" fill="#f00"/>
<circle cx="361.7" cy="854.0" r="3.6" fill="#f00"/>
<circle cx="365.0" cy="852.8" r="3.6" fill="#f00"/>
<circle cx="368.2" cy="849.8" r="3.6" fill="#f00"/>
<circle cx="371.5" cy="847.0" r="3.6" fill="#f00"/>
<circle cx="374.8" cy="845.1" r="3.6" fill="#f00"/>
<circle cx="378.0" cy="843.9" r="3.6" fill="#f00"/>
<circle cx="381.3" cy="842.5" r="3.6" fill="#f00"/>
<circle cx="384.5" cy="842.4" r="3.6" fill="#f00"/>
<circle cx="387.8" cy="843.3" r="3.6" fill="#f00"/>
<circle cx="391.1" cy="844.0" r="3.6" fill="#f00"/>
<circle cx="394.3" cy="843.3" r="3.6" fill="#f00"/>
<circle cx="397.6" cy="842.8" r="3.6" fill="#f00"/>
<circle cx="400.8" cy="840.8" r="3.6" fill="#f00"/>
<circle cx="404.1" cy="838.3" r="3.6" fill="#f00"/>
<circle cx="407.3" cy="837.8" r="3.6" fill="#f00"/>
<circle cx="410.6" cy="841.3" r="3.6" fill="#f00"/>
<circle cx="413.9" cy="844.2" r="3.6" fill="#f00"/>
<circle cx="417.1" cy="847.9" r="3.6" fill="#f00"/>
<circle cx="420.4" cy="849.4" r="3.6" fill="#f00"/>
<circle cx="423.6" cy="843.3" r="3.6" fill="#f00"/>
<circle cx="426.9" cy="838.4" r="3.6" fill="#f00"/>
<circle cx="430.1" cy="839.6" r="3.6" fill="#f00"/>
<circle cx="433.4" cy="841.9" r="3.6" fill="#f00"/>
<circle cx="436.7" cy="844.3" r="3.6" fill="#f00"/>
<circle cx="439.9" cy="845.8" r="3.6" fill="#f00"/>
<circle cx="443.2" cy="842.8" r="3.6" fill="#f00"/>
<circle cx="446.4" cy="841.3" r="3.6" fill="#f00"/>
<circle cx="449.7" cy="841.0" r="3.6" fill="#f00"/>
<circle cx="453.0" cy="843.9" r="3.6" fill="#f00"/>
<circle cx="456.2" cy="850.1" r="3.6" fill="#f00"/>
<circle cx="459.5" cy="842.2" r="3.6" fill="#f00"/>
<circle cx="462.7" cy="839.9" r="3.6" fill="#f00"/>
<circle cx="466.0" cy="844.4" r="3.6" fill="#f00"/>
<circle cx="469.2" cy="842.6" r="3.6" fill="#f00"/>
<circle cx="472.5" cy="839.2" r="3.6" fill="#f00"/>
<circle cx="475.8" cy="839.4" r="3.6" fill="#f00"/>
<circle cx="479.0" cy="843.5" r="3.6" fill="#f00"/>
<circle cx="482.3" cy="844.7" r="3.6" fill="#f00"/>
<circle cx="485.5" cy="843.1" r="3.6" fill="#f00"/>
<circle cx="488.8" cy="846.3" r="3.6" fill="#f00"/>
<circle cx="492.1" cy="848.5" r="3.6" fill="#f00"/>
<circle cx="495.3" cy="846.3" r="3.6" fill="#f00"/>
<circle cx="498.6" cy="840.9" r="3.6" fill="#f00"/>
<circle cx="501.8" cy="839.1" r="3.6" fill="#f00"/>
<circle cx="505.1" cy="839.8" r="3.6" fill="#f00"/>
<circle cx="508.3" cy="837.8" r="3.6" fill="#f00"/>
<circle cx="511.6" cy="836.8" r="3.6" fill="#f00"/>
<circle cx="514.9" cy="837.6" r="3.6" fill="#f00"/>
<circle cx="518.1" cy="840.2" r="3.6" fill="#f00"/>
<circle cx="521.4" cy="841.0" r="3.6" fill="#f00"/>
<circle cx="524.6" cy="840.0" r="3.6" fill="#f00"/>
<circle cx="527.9" cy="838.3" r="3.6" fill="#f00"/>
<circle cx="531.1" cy="841.3" r="3.6" fill="#f00"/>
<circle cx="534.4" cy="843.1" r="3.6" fill="#f00"/>
<circle cx="537.7" cy="844.5" r="3.6" fill="#f00"/>
<circle cx="540.9" cy="845.8" r="3.6" fill="#f00"/>
<circle cx="544.2" cy="845.1" r="3.6" fill="#f00"/>
<circle cx="547.4" cy="841.2" r="3.6" fill="#f00"/>
<circle cx="550.7" cy="837.7" r="3.6" fill="#f00"/>
<circle cx="554.0" cy="838.9" r="3.6" fill="#f00"/>
<circle cx="557.2" cy="842.0" r="3.6" fill="#f00"/>
<circle cx="560.5" cy="843.8" r="3.6" fill="#f00"/>
<circle cx="563.7" cy="842.4" r="3.6" fill="#f00"/>
<circle cx="567.0" cy="840.7" r="3.6" fill="#f00"/>
<circle cx="570.2" cy="839.8" r="3.6" fill="#f00"/>
<circle cx="573.5" cy="843.6" r="3.6" fill="#f00"/>
<circle cx="576.8" cy="845.6" r="3.6" fill="#f00"/>
<circle cx="580.0" cy="846.5" r="3.6" fill="#f00"/>
<circle cx="583.3" cy="845.4" r="3.6" fill="#f00"/>
<circle cx="586.5" cy="843.4" r="3.6" fill="#f00"/>
</g>
<rect x="62.7" y="7.9" width="524.6" height="388.3" stroke="#000" stroke-width="1.6" fill="none"/>
<path d="M95.5 396.2V404.2 M95.5 7.9V-0.1 M177.5 396.2V404.2 M177.5 7.9V-0.1 M259.4 396.2V404.2 M259.4 7.9V-0.1 M341.4 396.2V404.2 M341.4 7.9V-0.1 M423.4 396.2V404.2 M423.4 7.9V-0.1 M505.3 396.2V404.2 M505.3 7.9V-0.1 M587.3 396.2V404.2 M587.3 7.9V-0.1 M136.5 396.2V400.7 M136.5 7.9V3.4 M218.4 396.2V400.7 M218.4 7.9V3.4 M300.4 396.2V400.7 M300.4 7.9V3.4 M382.4 396.2V400.7 M382.4 7.9V3.4 M464.3 396.2V400.7 M464.3 7.9V3.4 M546.3 396.2V400.7 M546.3 7.9V3.4 M62.7 378.0H54.7 M587.3 378.0H595.3 M62.7 304.0H54.7 M587.3 304.0H595.3 M62.7 230.0H54.7 M587.3 230.0H595.3 M62.7 155.9H54.7 M587.3 155.9H595.3 M62.7 81.9H54.7 M587.3 81.9H595.3 M62.7 7.9H54.7 M587.3 7.9H595.3 M62.7 341.0H58.2 M587.3 341.0H591.8 M62.7 267.0H58.2 M587.3 267.0H591.8 M62.7 192.9H58.2 M587.3 192.9H591.8 M62.7 118.9H58.2 M587.3 118.9H591.8 M62.7 44.9H58.2 M587.3 44.9H591.8" stroke="#000" stroke-width="1.6" fill="none"/>
<path d="M95.2 474.0V867.6 M587.8 474.0V867.6 M94.4 474.0H336.8 M346.3 474.0H588.6 M94.4 867.6H336.8 M346.3 867.6H588.6 M122.5 867.6V875.6 M122.5 474.0V466.0 M202.7 867.6V875.6 M202.7 474.0V466.0 M282.8 867.6V875.6 M282.8 474.0V466.0 M162.6 867.6V872.1 M162.6 474.0V469.5 M242.7 867.6V872.1 M242.7 474.0V469.5 M322.9 867.6V872.1 M322.9 474.0V469.5 M379.9 867.6V875.6 M379.9 474.0V466.0 M483.8 867.6V875.6 M483.8 474.0V466.0 M587.8 867.6V875.6 M587.8 474.0V466.0 M431.9 867.6V872.1 M431.9 474.0V469.5 M535.8 867.6V872.1 M535.8 474.0V469.5 M95.2 845.8H87.2 M587.8 845.8H595.8 M95.2 802.0H87.2 M587.8 802.0H595.8 M95.2 758.2H87.2 M587.8 758.2H595.8 M95.2 714.4H87.2 M587.8 714.4H595.8 M95.2 670.6H87.2 M587.8 670.6H595.8 M95.2 626.8H87.2 M587.8 626.8H595.8 M95.2 583.0H87.2 M587.8 583.0H595.8 M95.2 539.2H87.2 M587.8 539.2H595.8 M95.2 495.4H87.2 M587.8 495.4H595.8 M95.2 867.7H90.7 M587.8 867.7H592.3 M95.2 823.9H90.7 M587.8 823.9H592.3 M95.2 780.1H90.7 M587.8 780.1H592.3 M95.2 736.3H90.7 M587.8 736.3H592.3 M95.2 692.5H90.7 M587.8 692.5H592.3 M95.2 648.7H90.7 M587.8 648.7H592.3 M95.2 604.9H90.7 M587.8 604.9H592.3 M95.2 561.1H90.7 M587.8 561.1H592.3 M95.2 517.3H90.7 M587.8 517.3H592.3 M95.2 473.5H90.7 M587.8 473.5H592.3" stroke="#000" stroke-width="1.6" fill="none"/>
<path d="M332.5 482.0L341.5 466.0 M332.5 875.6L341.5 859.6 M341.1 482.0L350.1 466.0 M341.1 875.6L350.1 859.6" stroke="#000" stroke-width="1.5" fill="none"/>
<g font-family='"Liberation Sans", sans-serif' fill="#000">
<text transform="translate(27.81,381.70) scale(1,1.000)" font-size="16.2" letter-spacing="-0.5">0.0</text>
<text transform="translate(27.99,307.68) scale(1,1.000)" font-size="16.2" letter-spacing="-0.5">0.2</text>
<text transform="translate(27.65,233.66) scale(1,1.000)" font-size="16.2" letter-spacing="-0.5">0.4</text>
<text transform="translate(27.89,159.64) scale(1,1.000)" font-size="16.2" letter-spacing="-0.5">0.6</text>
<text transform="translate(27.88,85.62) scale(1,1.000)" font-size="16.2" letter-spacing="-0.5">0.8</text>
<text transform="translate(27.81,11.60) scale(1,1.000)" font-size="16.2" letter-spacing="-0.5">1.0</text>
<text transform="translate(82.48,422.00) scale(1,1.000)" font-size="16.2" letter-spacing="-0.5">250</text>
<text transform="translate(164.47,422.00) scale(1,1.000)" font-size="16.2" letter-spacing="-0.5">275</text>
<text transform="translate(246.52,422.00) scale(1,1.000)" font-size="16.2" letter-spacing="-0.5">300</text>
<text transform="translate(328.51,422.00) scale(1,1.000)" font-size="16.2" letter-spacing="-0.5">325</text>
<text transform="translate(410.46,422.00) scale(1,1.000)" font-size="16.2" letter-spacing="-0.5">350</text>
<text transform="translate(492.45,422.00) scale(1,1.000)" font-size="16.2" letter-spacing="-0.5">375</text>
<text transform="translate(574.52,422.00) scale(1,1.000)" font-size="16.2" letter-spacing="-0.5">400</text>
<text x="324.9" y="452.3" font-size="19.3" text-anchor="middle">wavelength (nm)</text>
<text transform="translate(14.3,212.1) rotate(-90)" font-size="19" text-anchor="middle">Absorption</text>
<text transform="translate(166.39,78.10) scale(1,1.070)" font-size="22.3" font-weight="bold" >O</text>
<text transform="translate(183.92,86.90) scale(1,1.050)" font-size="12" font-weight="bold" >3</text>
<text x="327.94" y="53.20" font-size="18.9" >5 keV e</text>
<text x="393.86" y="45.00" font-size="10" >-</text>
<text x="401.73" y="53.20" font-size="18.9" >fluence (cm</text>
<text x="500.53" y="45.90" font-size="10.6" >-2</text>
<text x="511.79" y="53.20" font-size="18.9" >)</text>
<text x="391.9" y="81.00" font-size="18.9">As deposited</text>
<text x="391.9" y="108.37" font-size="18.9">1.4x10</text>
<text x="449.55" y="97.97" font-size="10.6">14</text>
<text x="391.9" y="135.84" font-size="18.9">4.2x10</text>
<text x="449.55" y="125.44" font-size="10.6">14</text>
<text x="391.9" y="163.31" font-size="18.9">5.6x10</text>
<text x="449.55" y="152.91" font-size="10.6">14</text>
<text x="391.9" y="190.78" font-size="18.9">7.2x10</text>
<text x="449.55" y="180.38" font-size="10.6">14</text>
<text x="391.9" y="218.25" font-size="18.9">1.8x10</text>
<text x="449.55" y="207.85" font-size="10.6">15</text>
</g>
<path d="M343.5 74.4H386.3" stroke="#222" stroke-width="0.9"/>
<path d="M343.5 101.9H386.3" stroke="#d04848" stroke-width="0.9"/>
<path d="M343.5 129.3H386.3" stroke="#d040d0" stroke-width="0.9"/>
<path d="M343.5 156.8H386.3" stroke="#40e0e0" stroke-width="0.9"/>
<path d="M343.5 184.3H386.3" stroke="#40c840" stroke-width="0.9"/>
<path d="M343.5 211.8H386.3" stroke="#4848d0" stroke-width="0.9"/>
<rect x="362.2" y="72.0" width="4.9" height="4.9" fill="#000"/>
<circle cx="364.7" cy="101.9" r="3.0" fill="#f00"/>
<path d="M366.5 126.2L366.5 132.5L361.1 129.3Z" fill="#f0f"/>
<path d="M364.7 153.5L368.0 156.8L364.7 160.1L361.4 156.8Z" fill="#0ff"/>
<path d="M361.4 186.2L367.9 186.2L364.7 180.5Z" fill="#0e0"/>
<path d="M361.4 209.9L367.9 209.9L364.7 215.5Z" fill="#00f"/>
<g font-family='"Liberation Sans", sans-serif' fill="#000">
<text transform="translate(43.49,850.10) scale(1,1.000)" font-size="16.2" letter-spacing="-0.5">0.000</text>
<text transform="translate(43.68,806.30) scale(1,1.000)" font-size="16.2" letter-spacing="-0.5">0.002</text>
<text transform="translate(43.34,762.50) scale(1,1.000)" font-size="16.2" letter-spacing="-0.5">0.004</text>
<text transform="translate(43.57,718.70) scale(1,1.000)" font-size="16.2" letter-spacing="-0.5">0.006</text>
<text transform="translate(43.56,674.90) scale(1,1.000)" font-size="16.2" letter-spacing="-0.5">0.008</text>
<text transform="translate(43.49,631.10) scale(1,1.000)" font-size="16.2" letter-spacing="-0.5">0.010</text>
<text transform="translate(43.68,587.30) scale(1,1.000)" font-size="16.2" letter-spacing="-0.5">0.012</text>
<text transform="translate(43.34,543.50) scale(1,1.000)" font-size="16.2" letter-spacing="-0.5">0.014</text>
<text transform="translate(43.57,499.70) scale(1,1.000)" font-size="16.2" letter-spacing="-0.5">0.016</text>
<text transform="translate(104.84,892.60) scale(1,1.000)" font-size="16.2" letter-spacing="-0.5">2160</text>
<text transform="translate(184.99,892.60) scale(1,1.000)" font-size="16.2" letter-spacing="-0.5">2100</text>
<text transform="translate(265.14,892.60) scale(1,1.000)" font-size="16.2" letter-spacing="-0.5">2040</text>
<text transform="translate(362.33,892.60) scale(1,1.000)" font-size="16.2" letter-spacing="-0.5">1080</text>
<text transform="translate(466.28,892.60) scale(1,1.000)" font-size="16.2" letter-spacing="-0.5">1020</text>
<text transform="translate(574.72,892.60) scale(1,1.000)" font-size="16.2" letter-spacing="-0.5">960</text>
<text x="260.53" y="918.60" font-size="19.1" >wavenumber (cm</text>
<text x="407.06" y="909.00" font-size="10" >-1</text>
<text x="417.89" y="918.60" font-size="19.1" >)</text>
<text transform="translate(14.3,683.5) rotate(-90)" font-size="19" text-anchor="middle">Absorption</text>
<text x="176.26" y="518.20" font-size="18.9" >Irradiated O</text>
<text x="277.75" y="525.00" font-size="11" >2</text>
<text x="176.45" y="547.40" font-size="18.9" >Pristine O</text>
<text x="260.65" y="555.00" font-size="11" >2</text>
</g>
<path d="M128.4 511.4H171.6" stroke="#000" stroke-width="1.6"/>
<rect x="146.8" y="508.1" width="6.5" height="6.5" fill="#000"/>
<path d="M128.4 541.3H171.6" stroke="#f00" stroke-width="1.6"/>
<circle cx="150.1" cy="541.3" r="3.6" fill="#f00"/>
</svg>
</body></html>
